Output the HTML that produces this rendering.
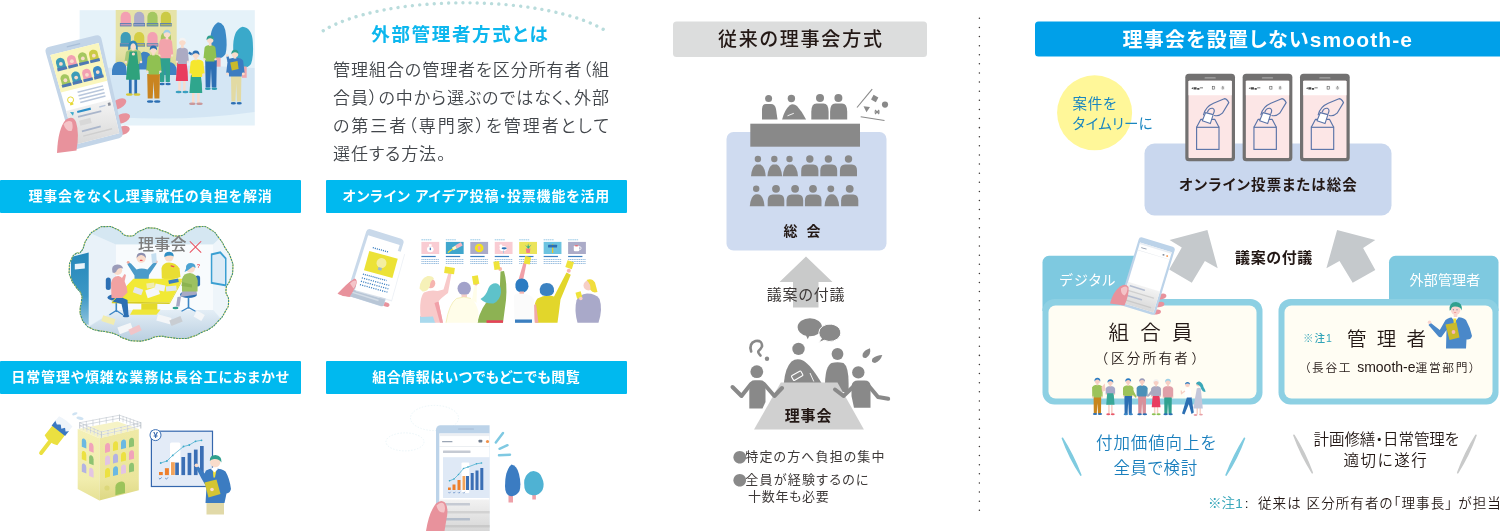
<!DOCTYPE html>
<html lang="ja">
<head>
<meta charset="utf-8">
<title>外部管理者方式とは</title>
<style>
html,body{margin:0;padding:0;background:#fff;}
body{width:1500px;height:531px;overflow:hidden;position:relative;font-family:"Liberation Sans","Noto Sans CJK JP",sans-serif;color:#3e3a39;}
#stage{position:absolute;left:0;top:0;width:1500px;height:531px;overflow:hidden;will-change:transform;-webkit-font-smoothing:antialiased;}
#art{position:absolute;left:0;top:0;width:1500px;height:531px;}
.t{position:absolute;white-space:nowrap;line-height:1;margin:0;font-feature-settings:"palt";}
.j{width:276px;font-size:17px;font-weight:350;color:#42464b;line-height:28px;text-align:justify;text-align-last:justify;text-justify:inter-character;}
.dot{font-family:"Noto Sans CJK JP","Liberation Sans",sans-serif;font-size:14px;color:#898989;letter-spacing:0;font-feature-settings:normal;display:inline-block;width:13.500px;line-height:13px;vertical-align:top;margin-left:-0.300px;margin-right:-0.900px;}
.c{text-align:center;}
.banner{position:absolute;height:33px;border-radius:1px;background:#00b9ef;color:#fff;font-weight:700;font-size:14px;letter-spacing:0.9px;line-height:33px;text-align:center;white-space:nowrap;font-feature-settings:"palt";}
</style>
</head>
<body>
<div id="stage">
<svg id="art" width="1500" height="531" viewBox="0 0 1500 531">
<!--BG-SHAPES-->
<!-- centre: heading box -->
<rect x="673" y="21.5" width="254" height="35.5" rx="3.5" fill="#dcdddd"/>
<!-- centre: general meeting box -->
<rect x="726.5" y="132" width="160" height="118.5" rx="7" fill="#cfdbf0"/>
<!-- centre arrow -->
<polygon points="806,256.5 832.5,282 818.5,282 818.5,307.5 793,307.5 793,282 779.5,282" fill="#c9caca"/>
<!-- right: heading -->
<path d="M1038.500,21.500 H1500 V56.500 H1038.500 a3.500,3.500 0 0 1 -3.500,-3.500 V25 a3.500,3.500 0 0 1 3.500,-3.500 Z" fill="#00a0e9"/>
<!-- right: yellow circle -->
<circle cx="1094.600" cy="112.800" r="37.500" fill="#fff799"/>
<!-- right: online box -->
<rect x="1144.500" y="143.500" width="247" height="72" rx="10" fill="#c9d7ee"/>
<!-- right arrows -->
<polygon points="1207.400,230.100 1217.700,268.300 1204.900,261.100 1191.800,282.800 1169.200,269.600 1181.800,247.400 1169.600,240" fill="#c5c9cc"/>
<polygon points="1337.100,230.100 1326.400,268.300 1339.500,261.100 1352.700,282.800 1375.300,270 1363.100,247.900 1375.300,240" fill="#c5c9cc"/>
<!-- right: frames -->
<path d="M1042.500,311 V262.300 a6.500,6.500 0 0 1 6.500,-6.500 H1150 V311 Z" fill="#7ec9e0"/>
<rect x="1042.500" y="299" width="220" height="105.500" rx="12" fill="#8dd0e3"/>
<rect x="1048.500" y="305.500" width="208" height="93" rx="7" fill="#fffdf3"/>
<path d="M1389,311 V262.300 a6.500,6.500 0 0 1 6.500,-6.500 H1492 a6.500,6.500 0 0 1 6.500,6.500 V311 Z" fill="#7ec9e0"/>
<rect x="1278.500" y="299" width="220" height="105.500" rx="12" fill="#8dd0e3"/>
<rect x="1284.500" y="305.500" width="208" height="93" rx="7" fill="#fffdf3"/>
<!-- slashes -->
<path d="M1062.400,438.300 Q1073,455 1080.800,475.100 Q1069.500,458 1062.400,438.300 Z" fill="#7fcbe0" stroke="#7fcbe0" stroke-width="1.600" stroke-linejoin="round"/>
<path d="M1244.500,438.300 Q1234,455 1226.100,475.100 Q1237.500,458 1244.500,438.300 Z" fill="#7fcbe0" stroke="#7fcbe0" stroke-width="1.600" stroke-linejoin="round"/>
<path d="M1293.900,435.300 Q1304.500,452 1312.300,472.700 Q1301,455 1293.900,435.300 Z" fill="#c9caca" stroke="#c9caca" stroke-width="1.600" stroke-linejoin="round"/>
<path d="M1476,435.300 Q1465.500,452 1457.700,472.700 Q1469,455 1476,435.300 Z" fill="#c9caca" stroke="#c9caca" stroke-width="1.600" stroke-linejoin="round"/>
<!-- vertical dotted divider -->
<line x1="979.400" y1="18.300" x2="979.400" y2="510.500" stroke="#3e3a39" stroke-width="1.500" stroke-dasharray="0.010 9.100" stroke-linecap="round"/>
<!-- dotted arc -->
<path d="M323.250,30.700 A160,52.700 0 0 1 605.550,30.700" fill="none" stroke="#b9dcdc" stroke-width="3.400" stroke-dasharray="0.010 7.180" stroke-linecap="round"/>
<!-- 10_ill1.svg -->
<defs>
<linearGradient id="bldg1" x1="0" y1="0" x2="0" y2="1"><stop offset="0.6" stop-color="#e6e3a8" stop-opacity="0"/><stop offset="1" stop-color="#d8d48a" stop-opacity="0.8"/></linearGradient>
<linearGradient id="phgrad1" x1="0" y1="0" x2="0" y2="1"><stop offset="0" stop-color="#f4f4f4"/><stop offset="1" stop-color="#d9d9d9"/></linearGradient>
</defs>
<g id="ill-residents">
<rect x="79.6" y="10.2" width="175.2" height="115.3" fill="#e5f2f9"/>
<path d="M79.5,70 Q165,62 254.5,68 V112 Q170,124 79.5,114 Z" fill="#d4e6f4"/>
<rect x="115.7" y="10" width="61" height="56" fill="#e6e3a8"/>
<rect x="115.7" y="10" width="61" height="56" fill="url(#bldg1)"/>
<path d="M120.6,23.1 V16.9 A5.1,5.1 0 0 1 130.8,16.9 V23.1 Z" fill="#f3a0b2"/>
<rect x="119.9" y="23" width="11.6" height="3.4" fill="#5a7fb5"/>
<rect x="120.4" y="23.9" width="10.6" height="1.6" fill="#f3a0b2" opacity="0.75"/>
<path d="M134.1,23.1 V16.9 A5.1,5.1 0 0 1 144.3,16.9 V23.1 Z" fill="#adacc9"/>
<rect x="133.4" y="23" width="11.6" height="3.4" fill="#5a7fb5"/>
<rect x="133.9" y="23.9" width="10.6" height="1.6" fill="#adacc9" opacity="0.75"/>
<path d="M147.4,23.1 V16.9 A5.1,5.1 0 0 1 157.6,16.9 V23.1 Z" fill="#a4c760"/>
<rect x="146.7" y="23" width="11.6" height="3.4" fill="#5a7fb5"/>
<rect x="147.2" y="23.9" width="10.6" height="1.6" fill="#a4c760" opacity="0.75"/>
<path d="M160.8,23.1 V16.9 A5.1,5.1 0 0 1 171,16.9 V23.1 Z" fill="#cbca45"/>
<rect x="160.1" y="23" width="11.6" height="3.4" fill="#5a7fb5"/>
<rect x="160.6" y="23.9" width="10.6" height="1.6" fill="#cbca45" opacity="0.75"/>
<path d="M120.6,43.3 V37.1 A5.1,5.1 0 0 1 130.8,37.1 V43.3 Z" fill="#3d9cb8"/>
<rect x="119.9" y="43.2" width="11.6" height="3.4" fill="#5a7fb5"/>
<rect x="120.4" y="44.1" width="10.6" height="1.6" fill="#3d9cb8" opacity="0.75"/>
<path d="M134.1,43.3 V37.1 A5.1,5.1 0 0 1 144.3,37.1 V43.3 Z" fill="#d4ce45"/>
<rect x="133.4" y="43.2" width="11.6" height="3.4" fill="#5a7fb5"/>
<rect x="133.9" y="44.1" width="10.6" height="1.6" fill="#d4ce45" opacity="0.75"/>
<path d="M147.4,43.3 V37.1 A5.1,5.1 0 0 1 157.6,37.1 V43.3 Z" fill="#f3a0b2"/>
<rect x="146.7" y="43.2" width="11.6" height="3.4" fill="#5a7fb5"/>
<rect x="147.2" y="44.1" width="10.6" height="1.6" fill="#f3a0b2" opacity="0.75"/>
<path d="M160.8,43.3 V37.1 A5.1,5.1 0 0 1 171,37.1 V43.3 Z" fill="#a4c760"/>
<rect x="160.1" y="43.2" width="11.6" height="3.4" fill="#5a7fb5"/>
<rect x="160.6" y="44.1" width="10.6" height="1.6" fill="#a4c760" opacity="0.75"/>
<path d="M112,75 Q111,64 117.500,62 Q123.500,60.500 126,66 L127,75 Z" fill="#3f82c3"/>
<path d="M136.500,69.500 Q136,55 143,51.800 Q150.500,51 151.500,59 L152,69.500 Z" fill="#3f82c3"/>
<path d="M161,75 Q161,64 167.500,62 Q175.500,61.500 176.700,70 L176.700,75 Z" fill="#3f82c3"/>
<path d="M218,22.3 Q225,23 226,35 Q227.500,46 225.500,54 Q222,59.5 215.500,58.5 Q210,57 210.200,46 Q209.500,27 218,22.300 Z" fill="#3b8ac6"/>
<rect x="215.8" y="57.5" width="4.8" height="9.2" fill="#eea8ae"/>
<path d="M242.500,26.800 Q252,27.500 252.800,42 Q253.800,56 251,64 Q247,69 240,67.500 Q233,64 233.200,50 Q232.500,30 242.500,26.800 Z" fill="#3aa9ca"/>
<rect x="242" y="66.5" width="4.7" height="11.3" fill="#eea8ae"/>
<path d="M159.6,57.5 H170.3 L169.87,82 H165.7 L164.95,64.85 L164.2,82 H160.03 Z" fill="#2fa18f"/>
<ellipse cx="162.06" cy="84" rx="2.68" ry="1.3" fill="#2c6fb3"/>
<ellipse cx="168.05" cy="84" rx="2.68" ry="1.3" fill="#2c6fb3"/>
<path d="M159.4,41.75 Q160.6,38.6 165.7,38.6 Q170.8,38.6 172,41.75 L173.2,54.36 L171.1,54.75 L170.8,58.3 H160.6 L160.3,54.75 L158.2,54.36 Z" fill="#f2a3ab"/>
<circle cx="159.25" cy="55.54" r="1.12" fill="#f9dccb"/>
<circle cx="172.15" cy="55.54" r="1.12" fill="#f9dccb"/>
<rect x="165.68" y="35.32" width="2.64" height="4.08" fill="#f9dccb"/>
<circle cx="167" cy="34" r="3.3" fill="#f9dccb"/>
<path d="M163.37,34.33 Q163.04,29.88 167,29.71 Q170.96,29.88 170.63,34.33 Q168.98,32.19 167,32.35 Q165.02,32.19 163.37,34.33 Z" fill="#9fd0e6"/>
<path d="M205.2,60.2 H216.8 L216.34,87.5 H211.81 L211,68.39 L210.19,87.5 H205.66 Z" fill="#2c6fb3"/>
<ellipse cx="207.87" cy="88.7" rx="2.9" ry="1.3" fill="#2a9ab0"/>
<ellipse cx="214.36" cy="88.7" rx="2.9" ry="1.3" fill="#2a9ab0"/>
<path d="M204.54,47.64 Q205.58,45 210,45 Q214.42,45 215.46,47.64 L216.5,58.2 L214.68,58.53 L214.42,61.5 H205.58 L205.32,58.53 L203.5,58.2 Z" fill="#90c152"/>
<circle cx="204.41" cy="59.19" r="0.97" fill="#f9dccb"/>
<circle cx="215.59" cy="59.19" r="0.97" fill="#f9dccb"/>
<rect x="208.88" y="41.12" width="2.64" height="4.68" fill="#f9dccb"/>
<circle cx="210.2" cy="39.8" r="3.3" fill="#f9dccb"/>
<path d="M206.57,40.13 Q206.24,35.67 210.2,35.51 Q214.16,35.67 213.83,40.13 Q212.18,37.98 210.2,38.15 Q208.22,37.98 206.57,40.13 Z" fill="#2f9e8e"/>
<rect x="128.92" y="78.5" width="2.72" height="16.3" fill="#2c6fb3"/>
<rect x="134.36" y="78.5" width="2.72" height="16.3" fill="#2c6fb3"/>
<path d="M127.83,58 L138.17,58 Q139.8,68.75 139.8,79.5 L126.2,79.5 Z" fill="#2fa27c"/>
<ellipse cx="129.33" cy="94.5" rx="3.4" ry="1.3" fill="#d7c93a"/>
<ellipse cx="136.94" cy="94.5" rx="3.4" ry="1.3" fill="#d7c93a"/>
<path d="M126.01,52.07 Q127.42,49.8 133.4,49.8 Q139.38,49.8 140.79,52.07 L142.2,61.16 L139.74,61.44 L139.38,64 H127.42 L127.06,61.44 L124.6,61.16 Z" fill="#a8c878"/>
<circle cx="125.83" cy="62.01" r="1.32" fill="#f9dccb"/>
<circle cx="140.97" cy="62.01" r="1.32" fill="#f9dccb"/>
<rect x="131.84" y="46.56" width="2.72" height="4.04" fill="#f9dccb"/>
<circle cx="133.2" cy="45.2" r="3.4" fill="#f9dccb"/>
<path d="M128.1,50.3 Q127.76,40.78 133.2,40.61 Q138.3,40.78 137.79,50.3 L135.92,49.28 Q136.43,43.84 133.2,43.33 Q129.97,43.84 130.48,49.28 Z" fill="#2f86b8"/>
<path d="M129.500,51.500 H137 L139.800,79.500 H126.200 Z" fill="#2fa27c"/>
<circle cx="133.4" cy="54" r="1.6" fill="#f9dccb"/>
<rect x="178.24" y="80" width="2.44" height="12.3" fill="#f9dccb"/>
<rect x="183.12" y="80" width="2.44" height="12.3" fill="#f9dccb"/>
<path d="M177.26,62.6 L186.54,62.6 Q188,71.8 188,81 L175.8,81 Z" fill="#e93c5e"/>
<ellipse cx="178.61" cy="92" rx="3.05" ry="1.3" fill="#3aa0c0"/>
<ellipse cx="185.44" cy="92" rx="3.05" ry="1.3" fill="#3aa0c0"/>
<path d="M176.84,50.06 Q177.88,47.4 182.3,47.4 Q186.72,47.4 187.76,50.06 L188.8,60.68 L186.98,61.01 L186.72,64 H177.88 L177.62,61.01 L175.8,60.68 Z" fill="#acabc3"/>
<circle cx="176.71" cy="61.68" r="0.97" fill="#f9dccb"/>
<circle cx="187.89" cy="61.68" r="0.97" fill="#f9dccb"/>
<rect x="181.08" y="43.32" width="2.64" height="4.88" fill="#f9dccb"/>
<circle cx="182.4" cy="42" r="3.3" fill="#f9dccb"/>
<path d="M178.77,42.33 Q178.44,37.88 182.4,37.71 Q186.36,37.88 186.03,42.33 Q184.38,40.19 182.4,40.35 Q180.42,40.19 178.77,42.33 Z" fill="#f4f4f4"/>
<path d="M147.2,73.9 H159.9 L159.39,98.5 H154.44 L153.55,81.28 L152.66,98.5 H147.71 Z" fill="#c98420"/>
<ellipse cx="150.12" cy="101.5" rx="3.18" ry="1.3" fill="#2c6fb3"/>
<ellipse cx="157.23" cy="101.5" rx="3.18" ry="1.3" fill="#2c6fb3"/>
<path d="M147.42,57.78 Q148.65,54.6 153.85,54.6 Q159.05,54.6 160.28,57.78 L161.5,70.52 L159.36,70.92 L159.05,74.5 H148.65 L148.34,70.92 L146.2,70.52 Z" fill="#90c152"/>
<circle cx="147.27" cy="71.71" r="1.15" fill="#f9dccb"/>
<circle cx="160.43" cy="71.71" r="1.15" fill="#f9dccb"/>
<rect x="152.08" y="51.12" width="2.64" height="4.28" fill="#f9dccb"/>
<circle cx="153.4" cy="49.8" r="3.3" fill="#f9dccb"/>
<path d="M149.77,50.13 Q149.44,45.67 153.4,45.51 Q157.36,45.67 157.03,50.13 Q155.38,47.98 153.4,48.15 Q151.42,47.98 149.77,50.13 Z" fill="#2c6fb3"/>
<rect x="191.96" y="92" width="2.56" height="12.1" fill="#f9dccb"/>
<rect x="197.08" y="92" width="2.56" height="12.1" fill="#f9dccb"/>
<path d="M190.94,74.6 L200.66,74.6 Q202.2,83.8 202.2,93 L189.4,93 Z" fill="#2fa68d"/>
<ellipse cx="192.34" cy="103.8" rx="3.2" ry="1.3" fill="#c9999c"/>
<ellipse cx="199.51" cy="103.8" rx="3.2" ry="1.3" fill="#c9999c"/>
<path d="M190.62,62.22 Q191.83,59.4 197,59.4 Q202.17,59.4 203.38,62.22 L204.6,73.48 L202.47,73.83 L202.17,77 H191.83 L191.53,73.83 L189.4,73.48 Z" fill="#f6e72e"/>
<circle cx="190.46" cy="74.54" r="1.14" fill="#f9dccb"/>
<circle cx="203.54" cy="74.54" r="1.14" fill="#f9dccb"/>
<rect x="194.48" y="56.12" width="2.64" height="4.08" fill="#f9dccb"/>
<circle cx="195.8" cy="54.8" r="3.3" fill="#f9dccb"/>
<path d="M192.17,55.13 Q191.84,50.67 195.8,50.51 Q199.76,50.67 199.43,55.13 Q197.78,52.98 195.8,53.15 Q193.82,52.98 192.17,55.13 Z" fill="#2c6fb3"/>
<path d="M189,51.500 l3,1.500 l-0.500,2.500 l-3.200,-1.800 Z" fill="#2c6fb3"/>
<path d="M231,75.4 H241.4 L240.98,101.5 H236.93 L236.2,83.23 L235.47,101.5 H231.42 Z" fill="#e2daa3"/>
<ellipse cx="233.39" cy="103.2" rx="2.6" ry="1.3" fill="#2c6fb3"/>
<ellipse cx="239.22" cy="103.2" rx="2.6" ry="1.3" fill="#2c6fb3"/>
<path d="M227.67,60.79 Q229.14,57.8 235.4,57.8 Q241.66,57.8 243.13,60.79 L244.6,72.76 L242.02,73.13 L241.66,76.5 H229.14 L228.78,73.13 L226.2,72.76 Z" fill="#3c7cc0"/>
<circle cx="227.49" cy="73.88" r="1.38" fill="#f9dccb"/>
<circle cx="243.31" cy="73.88" r="1.38" fill="#f9dccb"/>
<rect x="233.68" y="55.32" width="2.64" height="3.28" fill="#f9dccb"/>
<circle cx="235" cy="54" r="3.3" fill="#f9dccb"/>
<path d="M231.37,54.33 Q231.04,49.88 235,49.71 Q238.96,49.88 238.63,54.33 Q236.98,52.19 235,52.35 Q233.02,52.19 231.37,54.33 Z" fill="#2f9e8e"/>
<path d="M227.500,62 L226.300,56.500 L228.300,56 L230.500,61 Z" fill="#3c7cc0"/>
<circle cx="227.2" cy="55.5" r="1.3" fill="#f9dccb"/>
<path d="M230.200,62.500 L237.500,61 L238.600,69 L231.800,70.500 Z" fill="#c9ba2b"/>
<ellipse cx="118.5" cy="104" rx="8.5" ry="4.6" fill="#e8929c" transform="rotate(-28 118.5 104)"/>
<ellipse cx="122" cy="118.5" rx="8.5" ry="4.6" fill="#e8929c" transform="rotate(-22 122 118.5)"/>
<ellipse cx="122.5" cy="130.5" rx="7.5" ry="4.2" fill="#e8929c" transform="rotate(-18 122.5 130.5)"/>
<g>
<path d="M49.44,46.76 L95.36,35.44 Q100.4,34.2 101.44,38.83 L122.56,132.37 Q123.6,137 119.1,138.17 L78.1,148.83 Q73.6,150 72.29,145.41 L45.71,52.59 Q44.4,48 49.44,46.76 Z" fill="#c3d5e8"/>
<polygon points="50.29,55.06 98.6,43.11 119.29,133.22 75.55,144.56" fill="#ffffff"/>
<polygon points="50.29,55.06 98.6,43.11 107.26,80.82 60.86,92.52" fill="#faf6bd"/>
<polygon points="66.62,46.34 80.01,43.03 80.32,44.26 66.95,47.56" fill="#a9bfd8"/>
<polygon points="57.8,69.25 56.1,63.15 55.96,61.83 56.25,60.53 56.94,59.39 57.97,58.51 59.24,57.98 60.62,57.85 61.97,58.14 63.16,58.81 64.08,59.81 64.63,61.03 66.27,67.14" fill="#3d9cb8"/>
<polygon points="57.03,68.57 66.6,66.18 67.37,69.04 57.82,71.43" fill="#4f78b3"/>
<circle cx="60.89" cy="63.89" r="1.9" fill="#f9dccb"/>
<polygon points="68.73,66.52 67.1,60.42 66.97,59.09 67.28,57.79 67.98,56.65 69.02,55.77 70.29,55.24 71.66,55.11 73.01,55.4 74.19,56.08 75.09,57.08 75.63,58.3 77.2,64.41" fill="#f3a0b2"/>
<polygon points="67.97,65.84 77.54,63.46 78.27,66.32 68.73,68.7" fill="#4f78b3"/>
<circle cx="71.87" cy="61.16" r="1.9" fill="#f9dccb"/>
<polygon points="79.66,63.8 78.11,57.69 77.99,56.36 78.31,55.06 79.02,53.91 80.07,53.03 81.34,52.5 82.71,52.37 84.05,52.66 85.22,53.34 86.11,54.34 86.63,55.57 88.13,61.69" fill="#a4c760"/>
<polygon points="78.91,63.12 88.48,60.73 89.18,63.6 79.64,65.98" fill="#4f78b3"/>
<circle cx="82.85" cy="58.43" r="1.9" fill="#f9dccb"/>
<polygon points="90.59,61.08 89.11,54.95 89.01,53.62 89.34,52.32 90.06,51.17 91.11,50.29 92.39,49.76 93.76,49.63 95.09,49.92 96.25,50.6 97.13,51.61 97.63,52.83 99.06,58.96" fill="#cbca45"/>
<polygon points="89.85,60.39 99.42,58.01 100.09,60.88 90.54,63.26" fill="#4f78b3"/>
<circle cx="93.83" cy="55.7" r="1.9" fill="#f9dccb"/>
<polygon points="62.35,85.58 60.65,79.49 60.51,78.17 60.78,76.87 61.46,75.73 62.47,74.85 63.72,74.32 65.07,74.2 66.4,74.49 67.58,75.17 68.48,76.17 69.03,77.39 70.68,83.49" fill="#a4c760"/>
<polygon points="61.59,84.9 70.99,82.54 71.76,85.4 62.39,87.76" fill="#4f78b3"/>
<circle cx="65.37" cy="80.24" r="1.9" fill="#f9dccb"/>
<polygon points="73.09,82.89 71.46,76.78 71.33,75.46 71.62,74.16 72.31,73.01 73.33,72.13 74.57,71.61 75.93,71.48 77.25,71.78 78.42,72.46 79.31,73.46 79.84,74.68 81.41,80.79" fill="#3d9cb8"/>
<polygon points="72.34,82.2 81.74,79.84 82.48,82.71 73.1,85.07" fill="#4f78b3"/>
<circle cx="76.15" cy="77.54" r="1.9" fill="#f9dccb"/>
<polygon points="83.83,80.19 82.27,74.07 82.15,72.75 82.46,71.45 83.16,70.3 84.18,69.42 85.43,68.89 86.78,68.77 88.1,69.06 89.25,69.75 90.13,70.75 90.65,71.97 92.15,78.1" fill="#f3a0b2"/>
<polygon points="83.08,79.5 92.49,77.14 93.19,80.01 83.81,82.37" fill="#4f78b3"/>
<circle cx="86.94" cy="74.83" r="1.9" fill="#f9dccb"/>
<polygon points="94.57,77.49 93.08,71.36 92.98,70.04 93.3,68.73 94.01,67.59 95.04,66.71 96.29,66.18 97.64,66.06 98.95,66.35 100.09,67.03 100.96,68.04 101.46,69.27 102.89,75.4" fill="#3b8ac6"/>
<polygon points="93.83,76.8 103.24,74.44 103.9,77.32 94.53,79.67" fill="#4f78b3"/>
<circle cx="97.73" cy="72.12" r="1.9" fill="#f9dccb"/>
<circle cx="70.58" cy="99.9" r="3" fill="none" stroke="#e6d936" stroke-width="1"/>
<polygon points="69.84,103.36 73,102.56 73.55,104.6 70.41,105.4" fill="#e6d936"/>
<polygon points="77.4,91.62 102.92,85.18 103.25,86.61 77.78,93.05" fill="#b9c7dc"/>
<polygon points="78.3,94.99 103.71,88.57 104.05,90 78.67,96.43" fill="#b9c7dc"/>
<polygon points="79.19,98.37 104.51,91.95 104.85,93.39 79.57,99.8" fill="#b9c7dc"/>
<polygon points="80.08,101.75 105.31,95.34 105.65,96.78 80.46,103.18" fill="#b9c7dc"/>
<path d="M66.05,110.89 L111.5,99.31 L119.29,133.22 L75.55,144.56 Z" fill="url(#phgrad1)"/>
<polygon points="70.01,112.06 73.94,112.15 72.96,115.68" fill="#3aa9ca"/>
<polygon points="76.98,111.05 90.52,107.6 91.05,109.65 77.53,113.1" fill="#2c8fc8"/>
<polygon points="99.06,106.3 105.3,104.7 105.62,106.04 99.39,107.63" fill="#b9c7dc"/>
<polygon points="107.67,103.01 110.27,102.35 110.94,105.22 108.34,105.89" fill="#8a8f99"/>
<polygon points="77.79,116.09 101.1,110.13 101.52,111.88 78.26,117.83" fill="#aab6cb"/>
<polygon points="79.04,120.69 90.37,117.78 91.69,122.9 80.42,125.8" fill="#d8d8d8"/>
<polygon points="81.67,130.4 100.52,125.54 100.96,127.28 82.14,132.14" fill="#aab6cb"/>
<polygon points="83.05,135.51 111.93,128.05 112.24,129.38 83.41,136.84" fill="#cfcfcf"/>
</g>
<path d="M57,153 Q58,128 66,119.5 Q73,115 76,122 Q79.5,133 76.500,150.500 Z" fill="#e8929c"/>
<path d="M63.500,124 Q68,119 72,122 Q73.500,128 71.500,131 Q66,132 63.500,124 Z" fill="#f4c4c8"/>
</g>
<!-- 20_ill2.svg -->
<defs>
<linearGradient id="floor2" x1="0" y1="0" x2="0" y2="1"><stop offset="0" stop-color="#e4eef6"/><stop offset="1" stop-color="#b4cbde"/></linearGradient>
<linearGradient id="door2" x1="0" y1="0" x2="0" y2="1"><stop offset="0" stop-color="#2587b9"/><stop offset="0.6" stop-color="#3c98c6"/><stop offset="1" stop-color="#8fc3dd"/></linearGradient>
</defs>
<g id="ill-boardroom">
<clipPath id="cloudclip"><path d="M81.5,251 C85.33,245.83 82.5,245.17 87.5,238 C92.5,230.83 90.33,233.3 96.5,229.5 C102.67,225.7 99.33,226.77 106,226.6 C112.67,226.43 108.9,225.87 116.5,229 C124.1,232.13 120.63,235.5 128.8,236 C136.97,236.5 133.37,233.17 141,230.5 C148.63,227.83 143.87,227.67 151.7,228 C159.53,228.33 155.63,228.83 164.5,231.5 C173.37,234.17 169.8,236.5 178.3,236 C186.8,235.5 182.77,233.13 190,230 C197.23,226.87 193.17,226.77 200,226.6 C206.83,226.43 204.17,225.7 210.5,229.5 C216.83,233.3 214.07,231.83 219,238 C223.93,244.17 221.37,241.33 225.3,248 C229.23,254.67 228.3,250.8 230.8,258 C233.3,265.2 233.07,262.27 232.8,269.6 C232.53,276.93 232.27,273.2 230,280 C227.73,286.8 226.47,282.87 226,290 C225.53,297.13 228.93,294.07 228.6,301.4 C228.27,308.73 228.63,305.23 225,312 C221.37,318.77 222.7,316.2 217.7,321.7 C212.7,327.2 215.07,325.07 210,328.5 C204.93,331.93 208.5,329.23 202.5,332 C196.5,334.77 198.83,334.63 192,336.8 C185.17,338.97 189.33,338.27 182,338.5 C174.67,338.73 178,338.17 170,337.5 C162,336.83 165.67,335.73 158,336.5 C150.33,337.27 154.2,338.3 147,339.8 C139.8,341.3 143.73,341.33 136.4,341 C129.07,340.67 131.8,341 125,338.8 C118.2,336.6 122,336.67 116,334.4 C110,332.13 112.9,333.27 107,332 C101.1,330.73 103.63,331.83 98.3,330.6 C92.97,329.37 95.23,330.4 91,328.3 C86.77,326.2 88.83,328.07 85.6,324.3 C82.37,320.53 83.1,322.1 81.3,317 C79.5,311.9 80.13,314.33 80.2,309 C80.27,303.67 81.23,306.07 81.5,301 C81.77,295.93 82.83,298.47 81,293.8 C79.17,289.13 79.4,292.27 76,287 C72.6,281.73 73.03,284.2 70.8,278 C68.57,271.8 69.07,274.73 69.3,268.4 C69.53,262.07 69.27,263.97 71.5,259 C73.73,254.03 72.67,256.17 76,253.5 C79.33,250.83 77.67,256.17 81.5,251 Z"/></clipPath>
<g clip-path="url(#cloudclip)">
<rect x="65" y="222" width="172" height="122" fill="#dfecf5"/>
<polygon points="65,222 237,222 213,244.5 115.8,244.5" fill="#d5e7f2"/>
<polygon points="65,222 115.8,244.5 115.8,310 65,340" fill="#e9f2f9"/>
<polygon points="237,222 213,244.5 213,310 237,335" fill="#eef5fa"/>
<rect x="115.8" y="244.5" width="97.2" height="66" fill="#f8fbfd"/>
<polygon points="115.8,310 213,310 240,345 60,345" fill="url(#floor2)"/>
<polygon points="71,257 88.7,252.5 88.7,325 71,318" fill="url(#door2)"/>
<rect x="74.8" y="263.5" width="10" height="5.5" fill="#e9f4fa" transform="skewY(-6)" transform-origin="80 266"/>
<polygon points="210.8,253.5 220.5,251.3 226.5,258 226.5,286.5 210.8,283.8" fill="#3a9fd2"/>
<polygon points="212.3,255.3 220,253.5 225,259 225,284.3 212.3,282" fill="#dcebf6"/>
<rect x="102" y="317" width="13" height="6" fill="#f1ecb0" transform="rotate(18 108 320)"/>
<rect x="118" y="325" width="14" height="7" fill="#f4f6f8" transform="rotate(-20 125 328)"/>
<rect x="129" y="327" width="12" height="6" fill="#f1c4c8" transform="rotate(-25 135 330)"/>
<rect x="157" y="316" width="14" height="6.5" fill="#f4f6f8" transform="rotate(15 164 319)"/>
<rect x="170" y="318" width="12" height="6" fill="#c9cdd2" transform="rotate(-22 176 321)"/>
<rect x="195" y="312" width="9" height="7" fill="#f4f6f8" transform="rotate(30 199 315)"/>
</g>
<path d="M81.5,251 C85.33,245.83 82.5,245.17 87.5,238 C92.5,230.83 90.33,233.3 96.5,229.5 C102.67,225.7 99.33,226.77 106,226.6 C112.67,226.43 108.9,225.87 116.5,229 C124.1,232.13 120.63,235.5 128.8,236 C136.97,236.5 133.37,233.17 141,230.5 C148.63,227.83 143.87,227.67 151.7,228 C159.53,228.33 155.63,228.83 164.5,231.5 C173.37,234.17 169.8,236.5 178.3,236 C186.8,235.5 182.77,233.13 190,230 C197.23,226.87 193.17,226.77 200,226.6 C206.83,226.43 204.17,225.7 210.5,229.5 C216.83,233.3 214.07,231.83 219,238 C223.93,244.17 221.37,241.33 225.3,248 C229.23,254.67 228.3,250.8 230.8,258 C233.3,265.2 233.07,262.27 232.8,269.6 C232.53,276.93 232.27,273.2 230,280 C227.73,286.8 226.47,282.87 226,290 C225.53,297.13 228.93,294.07 228.6,301.4 C228.27,308.73 228.63,305.23 225,312 C221.37,318.77 222.7,316.2 217.7,321.7 C212.7,327.2 215.07,325.07 210,328.5 C204.93,331.93 208.5,329.23 202.5,332 C196.5,334.77 198.83,334.63 192,336.8 C185.17,338.97 189.33,338.27 182,338.5 C174.67,338.73 178,338.17 170,337.5 C162,336.83 165.67,335.73 158,336.5 C150.33,337.27 154.2,338.3 147,339.8 C139.8,341.3 143.73,341.33 136.4,341 C129.07,340.67 131.8,341 125,338.8 C118.2,336.6 122,336.67 116,334.4 C110,332.13 112.9,333.27 107,332 C101.1,330.73 103.63,331.83 98.3,330.6 C92.97,329.37 95.23,330.4 91,328.3 C86.77,326.2 88.83,328.07 85.6,324.3 C82.37,320.53 83.1,322.1 81.3,317 C79.5,311.9 80.13,314.33 80.2,309 C80.27,303.67 81.23,306.07 81.5,301 C81.77,295.93 82.83,298.47 81,293.8 C79.17,289.13 79.4,292.27 76,287 C72.6,281.73 73.03,284.2 70.8,278 C68.57,271.8 69.07,274.73 69.3,268.4 C69.53,262.07 69.27,263.97 71.5,259 C73.73,254.03 72.67,256.17 76,253.5 C79.33,250.83 77.67,256.17 81.5,251 Z" fill="none" stroke="#e4d94e" stroke-width="1"/>
<path d="M81.5,251 C85.33,245.83 82.5,245.17 87.5,238 C92.5,230.83 90.33,233.3 96.5,229.5 C102.67,225.7 99.33,226.77 106,226.6 C112.67,226.43 108.9,225.87 116.5,229 C124.1,232.13 120.63,235.5 128.8,236 C136.97,236.5 133.37,233.17 141,230.5 C148.63,227.83 143.87,227.67 151.7,228 C159.53,228.33 155.63,228.83 164.5,231.5 C173.37,234.17 169.8,236.5 178.3,236 C186.8,235.5 182.77,233.13 190,230 C197.23,226.87 193.17,226.77 200,226.6 C206.83,226.43 204.17,225.7 210.5,229.5 C216.83,233.3 214.07,231.83 219,238 C223.93,244.17 221.37,241.33 225.3,248 C229.23,254.67 228.3,250.8 230.8,258 C233.3,265.2 233.07,262.27 232.8,269.6 C232.53,276.93 232.27,273.2 230,280 C227.73,286.8 226.47,282.87 226,290 C225.53,297.13 228.93,294.07 228.6,301.4 C228.27,308.73 228.63,305.23 225,312 C221.37,318.77 222.7,316.2 217.7,321.7 C212.7,327.2 215.07,325.07 210,328.5 C204.93,331.93 208.5,329.23 202.5,332 C196.5,334.77 198.83,334.63 192,336.8 C185.17,338.97 189.33,338.27 182,338.5 C174.67,338.73 178,338.17 170,337.5 C162,336.83 165.67,335.73 158,336.5 C150.33,337.27 154.2,338.3 147,339.8 C139.8,341.3 143.73,341.33 136.4,341 C129.07,340.67 131.8,341 125,338.8 C118.2,336.6 122,336.67 116,334.4 C110,332.13 112.9,333.27 107,332 C101.1,330.73 103.63,331.83 98.3,330.6 C92.97,329.37 95.23,330.4 91,328.3 C86.77,326.2 88.83,328.07 85.6,324.3 C82.37,320.53 83.1,322.1 81.3,317 C79.5,311.9 80.13,314.33 80.2,309 C80.27,303.67 81.23,306.07 81.5,301 C81.77,295.93 82.83,298.47 81,293.8 C79.17,289.13 79.4,292.27 76,287 C72.6,281.73 73.03,284.2 70.8,278 C68.57,271.8 69.07,274.73 69.3,268.4 C69.53,262.07 69.27,263.97 71.5,259 C73.73,254.03 72.67,256.17 76,253.5 C79.33,250.83 77.67,256.17 81.5,251 Z" fill="none" stroke="#3a8d8a" stroke-width="1.100" stroke-dasharray="1.900 1"/>
<rect x="105.8" y="277.5" width="5" height="12.5" rx="2.5" fill="#2c6fb3"/>
<ellipse cx="113.5" cy="297.5" rx="6" ry="3" fill="#2c6fb3"/>
<rect x="115.5" y="299" width="1.6" height="13" fill="#3b86c5"/>
<path d="M110,314.500 L116.3,310.500 L122.500,314.500" fill="none" stroke="#3b86c5" stroke-width="1.4" stroke-linecap="round"/>
<rect x="195.5" y="275.5" width="4.6" height="11" rx="2.3" fill="#2c6fb3"/>
<ellipse cx="188.5" cy="294.5" rx="8.5" ry="3.6" fill="#2c6fb3"/>
<rect x="187.7" y="297" width="1.6" height="11.5" fill="#3b86c5"/>
<path d="M182,311 L188.5,307.500 L195,311" fill="none" stroke="#3b86c5" stroke-width="1.4" stroke-linecap="round"/>
<path d="M131,263.5 L128,262 L127.5,264.500 L134.5,275.5 L134.5,280 L148.5,280 L149,275 L156.8,263.5 L156,261.5 L153.500,262.500 L147.5,269.5 Q141.5,267.5 136.5,269.5 Z" fill="#4a9bc9"/>
<circle cx="128.2" cy="262.3" r="1.4" fill="#f3a99b"/>
<circle cx="156.2" cy="261.8" r="1.4" fill="#f3a99b"/>
<circle cx="141.2" cy="258.2" r="4.6" fill="#f9dccb"/>
<path d="M136.500,258 Q136.500,252.800 141.200,252.800 Q146,252.800 146,258 Q143.500,254.800 141.200,255 Q139,254.800 136.500,258 Z" fill="#8d8fae"/>
<rect x="139.8" y="259.8" width="2.8" height="1.3" rx="0.6" fill="#e9505a"/>
<polygon points="151.2,254 156.2,253 156.8,262.5 152,263.5" fill="#c6dff0"/>
<path d="M161.500,268 Q163,262.500 169,262.500 Q176,262.500 179.500,268.500 L180.500,277 Q172,281 161.800,278.500 Z" fill="#e9dd33"/>
<circle cx="169" cy="257.2" r="4.4" fill="#f9dccb"/>
<path d="M164.300,257 Q164,251.800 169.500,251.800 Q174,252.300 173.600,256.500 Q170.500,254.500 164.300,257 Z" fill="#2f8fc5"/>
<rect x="170.5" y="265.5" width="4" height="1.2" rx="0.6" fill="#e9505a" transform="rotate(15 172 266)"/>
<polygon points="133.3,278.8 182.6,278.8 169.7,302.4 111.8,301.6" fill="#f1e935"/>
<polygon points="111.8,301.6 169.7,302.4 169.7,304 111.8,303.3" fill="#d6cc24"/>
<polygon points="169.7,302.4 182.6,278.8 182.6,280.5 169.7,304" fill="#e2d92b"/>
<rect x="141.3" y="303.5" width="16" height="6.5" fill="#e4da2a"/>
<polygon points="133,309.5 160.5,309.5 156.5,314.8 130,314.8" fill="#efe63a"/>
<rect x="146.5" y="283" width="8" height="5" fill="#f1ecb0" transform="rotate(-8 150 285)"/>
<rect x="133.5" y="288" width="9" height="6" fill="#e4e6ea" transform="rotate(20 138 291)"/>
<rect x="146" y="288.5" width="13" height="8" fill="#f5f7f9" transform="rotate(-18 152 292)"/>
<rect x="155" y="284.5" width="10" height="6" fill="#eef1f4" transform="rotate(12 160 287)"/>
<rect x="166" y="286" width="10.5" height="5" fill="#dfe6ee" transform="rotate(-5 171 288)"/>
<rect x="168.5" y="279.5" width="10" height="3.6" fill="#3b7fc0" transform="rotate(-12 173 281)"/>
<path d="M118.5,296 L127.500,300 L128.500,315 L124,315.500 L121.5,304 L112.500,301.500 Z" fill="#2c6fb3"/>
<ellipse cx="126" cy="316" rx="3.2" ry="1.3" fill="#2c6fb3"/>
<path d="M111,283 Q112.500,275.800 118.500,276 Q123.500,276.500 126.800,287.500 L127.500,292.500 L122,298 L111.500,298 Z" fill="#f1a2a2"/>
<path d="M120,281 L124.500,274 L126,275 L124,284 Z" fill="#f1a2a2"/>
<circle cx="117.6" cy="270.3" r="4.6" fill="#f9dccb"/>
<path d="M112.500,272.500 Q110.500,265 117,264.500 Q122,264.300 123.200,268.500 Q119,267 117,270 Q116,274 112.500,272.500 Z" fill="#9b9cb9"/>
<path d="M182.500,290.500 L196.500,290.500 L197,294.500 L180.500,297 Z" fill="#a7a9c5"/>
<path d="M177.500,297 L181,296.500 L179.500,306.500 L176,306.500 Z" fill="#a7a9c5"/>
<ellipse cx="175.5" cy="308" rx="3" ry="1.3" fill="#2fa18f"/>
<path d="M182,279 Q183.500,273 190,273 Q196.500,273.500 197.800,281 L197.500,291.500 L182,291.500 Z" fill="#9dc160"/>
<path d="M182,282 L192,284.500 L192,287.500 L181.500,286 Z" fill="#8bb350"/>
<circle cx="190.6" cy="268.3" r="4.4" fill="#f9dccb"/>
<path d="M186,268.500 Q185.500,263 191,263 Q196,263.500 195.500,268 L193,266.500 L187.500,270.500 L184.500,272 Z" fill="#4ba3d3"/>
<text x="196.800" y="267.500" font-size="5.500" font-weight="700" fill="#e9505a" font-family="Liberation Sans, sans-serif">?</text>
</g>
<!-- 30_ill3.svg -->
<g id="ill-ideas">
<path d="M337.5,293.5 Q345,286 352,280 Q357.500,277 358.500,282 L355,297.500 L349,296.500 Q343,297 337.500,293.500 Z" fill="#e8929c"/>
<ellipse cx="386" cy="304.5" rx="3.6" ry="2.2" fill="#e8929c" transform="rotate(17 386 304.5)"/>
<g transform="translate(375.200 267.800) rotate(17.500)">
<rect x="-19.5" y="-35.5" width="39" height="70.5" rx="3.5" fill="#c9d9ea"/>
<rect x="-16.5" y="-29" width="33" height="52" fill="#ffffff"/>
<rect x="-19" y="23" width="38" height="11.6" rx="1" fill="#b8c6d6"/>
<rect x="-15" y="26" width="28" height="1.5" fill="#d4dde7"/>
<rect x="-15" y="29.5" width="28" height="1.5" fill="#d4dde7"/>
</g>
<g transform="translate(379.700 271.400) rotate(15.5)">
<rect x="-18.5" y="-24" width="37.5" height="49" fill="#dfe6ee" opacity="0.6" transform="translate(0.800 0.800)"/>
<rect x="-19" y="-24.5" width="38" height="49" fill="#ffffff"/>
<rect x="-15.5" y="-17" width="29.5" height="20" fill="#ece236"/>
<circle cx="-0.5" cy="-8.5" r="5" fill="#f4eea0"/>
<rect x="-2.3" y="-4" width="3.6" height="3" fill="#9fb8d0"/>
<line x1="-13" y1="-21" x2="3" y2="-21" stroke="#3b7fc0" stroke-width="1.3" stroke-dasharray="1.100 1"/>
<line x1="-15.5" y1="7" x2="9" y2="7" stroke="#3b7fc0" stroke-width="1.3" stroke-dasharray="1.100 0.900"/>
<line x1="-15.5" y1="11" x2="13" y2="11" stroke="#3b7fc0" stroke-width="1.3" stroke-dasharray="1.100 1.200"/>
<line x1="-15.5" y1="14.5" x2="13" y2="14.5" stroke="#3b7fc0" stroke-width="1.3" stroke-dasharray="1.100 1.200"/>
<line x1="-15.5" y1="18" x2="13" y2="18" stroke="#3b7fc0" stroke-width="1.3" stroke-dasharray="1.100 1.200"/>
</g>
<path d="M338,294 Q346,284 354.500,278.500 Q358,279.500 356,285.500 Q353,292 349.500,297 Z" fill="#e8929c"/>
<path d="M350,283.500 Q354,279.500 356,281 Q356.500,285 353.500,288.500 Z" fill="#f4c4c8"/>
<rect x="420.8" y="238.6" width="19.2" height="26.2" fill="#ffffff"/>
<line x1="421.4" y1="239.8" x2="431.9" y2="239.8" stroke="#8cc4e4" stroke-width="0.9" stroke-dasharray="1.600 0.500"/>
<rect x="421.4" y="241.9" width="17.8" height="12.1" fill="#f9ccd3"/>
<ellipse cx="430.3" cy="249.2" rx="3.3" ry="3" fill="#ffffff"/>
<rect x="429" y="244.2" width="2.6" height="1.8" fill="#ffffff"/>
<rect x="429.7" y="247.7" width="1.2" height="2.4" fill="#3b6fb5"/>
<rect x="421.4" y="255.9" width="14.3" height="1.2" fill="#3b7fc0"/>
<line x1="421.4" y1="259.5" x2="439.2" y2="259.5" stroke="#8fb8dc" stroke-width="0.9" stroke-dasharray="1.300 0.500"/>
<line x1="421.4" y1="261.5" x2="439.2" y2="261.5" stroke="#8fb8dc" stroke-width="0.9" stroke-dasharray="1.300 0.500"/>
<line x1="421.4" y1="263.5" x2="439.2" y2="263.5" stroke="#8fb8dc" stroke-width="0.9" stroke-dasharray="1.300 0.500"/>
<rect x="445.25" y="238.6" width="19.2" height="26.2" fill="#ffffff"/>
<line x1="445.85" y1="239.8" x2="456.35" y2="239.8" stroke="#8cc4e4" stroke-width="0.9" stroke-dasharray="1.600 0.500"/>
<rect x="445.85" y="241.9" width="17.8" height="12.1" fill="#3fa6cd"/>
<line x1="448.25" y1="252.2" x2="452.75" y2="249" stroke="#f1dd31" stroke-width="1.3" stroke-linecap="round"/>
<line x1="452.75" y1="249" x2="456.25" y2="246.8" stroke="#fdf6c8" stroke-width="3.2"/>
<line x1="456.25" y1="246.8" x2="461.75" y2="243.8" stroke="#f6b5c0" stroke-width="3.6"/>
<rect x="445.85" y="255.9" width="14.3" height="1.2" fill="#3b7fc0"/>
<line x1="445.85" y1="259.5" x2="463.65" y2="259.5" stroke="#8fb8dc" stroke-width="0.9" stroke-dasharray="1.300 0.500"/>
<line x1="445.85" y1="261.5" x2="463.65" y2="261.5" stroke="#8fb8dc" stroke-width="0.9" stroke-dasharray="1.300 0.500"/>
<line x1="445.85" y1="263.5" x2="463.65" y2="263.5" stroke="#8fb8dc" stroke-width="0.9" stroke-dasharray="1.300 0.500"/>
<rect x="469.7" y="238.6" width="19.2" height="26.2" fill="#ffffff"/>
<line x1="470.3" y1="239.8" x2="480.8" y2="239.8" stroke="#8cc4e4" stroke-width="0.9" stroke-dasharray="1.600 0.500"/>
<rect x="470.3" y="241.9" width="17.8" height="12.1" fill="#ababc8"/>
<circle cx="479.2" cy="248" r="4.3" fill="#f3e21f"/>
<ellipse cx="479.2" cy="248" rx="1.5" ry="2" fill="#f3a0b2"/>
<rect x="470.3" y="255.9" width="14.3" height="1.2" fill="#3b7fc0"/>
<line x1="470.3" y1="259.5" x2="488.1" y2="259.5" stroke="#8fb8dc" stroke-width="0.9" stroke-dasharray="1.300 0.500"/>
<line x1="470.3" y1="261.5" x2="488.1" y2="261.5" stroke="#8fb8dc" stroke-width="0.9" stroke-dasharray="1.300 0.500"/>
<line x1="470.3" y1="263.5" x2="488.1" y2="263.5" stroke="#8fb8dc" stroke-width="0.9" stroke-dasharray="1.300 0.500"/>
<rect x="494.15" y="238.6" width="19.2" height="26.2" fill="#ffffff"/>
<line x1="494.75" y1="239.8" x2="505.25" y2="239.8" stroke="#8cc4e4" stroke-width="0.9" stroke-dasharray="1.600 0.500"/>
<rect x="494.75" y="241.9" width="17.8" height="12.1" fill="#f9ccd3"/>
<ellipse cx="503.15" cy="248.5" rx="3.6" ry="2.6" fill="#ffffff"/>
<circle cx="500.85" cy="245.7" r="1.5" fill="#ffffff"/>
<ellipse cx="504.15" cy="248.3" rx="2.6" ry="1.1" fill="#2c6fb3"/>
<rect x="503.25" y="250.5" width="0.7" height="2.8" fill="#8cc4e4"/>
<rect x="494.75" y="255.9" width="14.3" height="1.2" fill="#3b7fc0"/>
<line x1="494.75" y1="259.5" x2="512.55" y2="259.5" stroke="#8fb8dc" stroke-width="0.9" stroke-dasharray="1.300 0.500"/>
<line x1="494.75" y1="261.5" x2="512.55" y2="261.5" stroke="#8fb8dc" stroke-width="0.9" stroke-dasharray="1.300 0.500"/>
<line x1="494.75" y1="263.5" x2="512.55" y2="263.5" stroke="#8fb8dc" stroke-width="0.9" stroke-dasharray="1.300 0.500"/>
<rect x="518.6" y="238.6" width="19.2" height="26.2" fill="#ffffff"/>
<line x1="519.2" y1="239.8" x2="529.7" y2="239.8" stroke="#8cc4e4" stroke-width="0.9" stroke-dasharray="1.600 0.500"/>
<rect x="519.2" y="241.9" width="17.8" height="12.1" fill="#ebe45a"/>
<polygon points="525.8,248.5 530.4,248.5 529.8,253 526.4,253" fill="#f0808a"/>
<path d="M528.1,248.5 l-3.200,-3.800 l2.600,2 l0.600,-3.400 l0.800,3.400 l2.600,-2.200 l-2.800,4 Z" fill="#2fa68d"/>
<rect x="519.2" y="255.9" width="14.3" height="1.2" fill="#3b7fc0"/>
<line x1="519.2" y1="259.5" x2="537" y2="259.5" stroke="#8fb8dc" stroke-width="0.9" stroke-dasharray="1.300 0.500"/>
<line x1="519.2" y1="261.5" x2="537" y2="261.5" stroke="#8fb8dc" stroke-width="0.9" stroke-dasharray="1.300 0.500"/>
<line x1="519.2" y1="263.5" x2="537" y2="263.5" stroke="#8fb8dc" stroke-width="0.9" stroke-dasharray="1.300 0.500"/>
<rect x="543.05" y="238.6" width="19.2" height="26.2" fill="#ffffff"/>
<line x1="543.65" y1="239.8" x2="554.15" y2="239.8" stroke="#8cc4e4" stroke-width="0.9" stroke-dasharray="1.600 0.500"/>
<rect x="543.65" y="241.9" width="17.8" height="12.1" fill="#6cc3e0"/>
<rect x="551.95" y="244.2" width="1.3" height="8.8" fill="#e9c62b"/>
<rect x="548.05" y="244.8" width="9" height="2.8" rx="0.5" fill="#2c6fb3"/>
<rect x="543.65" y="255.9" width="14.3" height="1.2" fill="#3b7fc0"/>
<line x1="543.65" y1="259.5" x2="561.45" y2="259.5" stroke="#8fb8dc" stroke-width="0.9" stroke-dasharray="1.300 0.500"/>
<line x1="543.65" y1="261.5" x2="561.45" y2="261.5" stroke="#8fb8dc" stroke-width="0.9" stroke-dasharray="1.300 0.500"/>
<line x1="543.65" y1="263.5" x2="561.45" y2="263.5" stroke="#8fb8dc" stroke-width="0.9" stroke-dasharray="1.300 0.500"/>
<rect x="567.5" y="238.6" width="19.2" height="26.2" fill="#ffffff"/>
<line x1="568.1" y1="239.8" x2="578.6" y2="239.8" stroke="#8cc4e4" stroke-width="0.9" stroke-dasharray="1.600 0.500"/>
<rect x="568.1" y="241.9" width="17.8" height="12.1" fill="#ababc8"/>
<rect x="573.8" y="245.4" width="5.4" height="5.8" rx="1" fill="#ffffff"/>
<circle cx="579.6" cy="248.2" r="1.5" fill="none" stroke="#ffffff" stroke-width="0.8"/>
<ellipse cx="576.5" cy="245.8" rx="2.2" ry="0.7" fill="#e0707a"/>
<rect x="568.1" y="255.9" width="14.3" height="1.2" fill="#3b7fc0"/>
<line x1="568.1" y1="259.5" x2="585.9" y2="259.5" stroke="#8fb8dc" stroke-width="0.9" stroke-dasharray="1.300 0.500"/>
<line x1="568.1" y1="261.5" x2="585.9" y2="261.5" stroke="#8fb8dc" stroke-width="0.9" stroke-dasharray="1.300 0.500"/>
<line x1="568.1" y1="263.5" x2="585.9" y2="263.5" stroke="#8fb8dc" stroke-width="0.9" stroke-dasharray="1.300 0.500"/>
<path d="M577.500,322.800 Q574,310 576.500,300.500 Q579,294.500 587,293.500 Q596,293.500 599.500,299 Q603,309 598.500,322.800 Z" fill="#a9a9c9"/>
<circle cx="588.5" cy="285.5" r="5" fill="#f6cfc6"/>
<path d="M586.500,280 Q592,277.500 595,282.500 Q596.500,288 597.500,292 Q592.500,293.500 590.500,290 Q591,284 586.500,280 Z" fill="#f1dd3d"/>
<rect x="576.2" y="291.8" width="5.4" height="6.4" fill="#efe33a" transform="rotate(-15 579 295)"/>
<circle cx="580.8" cy="298.5" r="1.8" fill="#f6cfc6"/>
<path d="M535.500,322.800 Q532,305 537.500,298.500 Q546,294 554,296.500 L566.500,272.500 L570.800,274.800 L560.500,299.500 Q559,312 557.500,322.800 Z" fill="#e2d62b"/>
<path d="M532.500,306 L536,304 L538.500,322.800 L534.500,322.800 Z" fill="#f1a9a9"/>
<circle cx="568.8" cy="270.8" r="2" fill="#f6b5b0"/>
<rect x="566.2" y="261.2" width="6.8" height="7.2" fill="#efe33a" transform="rotate(18 570 265)"/>
<path d="M540,292.500 Q538.500,283.500 546.500,283 Q554.500,283 554,291.500 Q553,296 546.500,296 Q541.500,296 540,292.500 Z" fill="#3b82c2"/>
<path d="M514.500,322.800 L514,296 Q516,292.500 522,293.500 Q531,294 534,299.500 L534.500,322.800 Z" fill="#fbfbfb"/>
<rect x="515" y="319.5" width="17" height="3.3" fill="#3b7fc0"/>
<path d="M518,281.500 L523.500,262.500 L526.500,263.500 L522.500,283 Z" fill="#f1a0a8"/>
<rect x="524.5" y="256.5" width="6" height="7.4" fill="#efe33a" transform="rotate(10 527 260)"/>
<path d="M515.500,287.500 Q514.500,279 521.500,278.500 Q528.500,278.800 528.500,286.500 Q527.500,292.500 521.500,292.500 Q516.500,292 515.500,287.500 Z" fill="#2c7cc2"/>
<rect x="519.5" y="291.5" width="4.5" height="2.2" fill="#f6b5b0"/>
<path d="M477,322.800 Q482,305 490,299 L499.500,296 L500.500,271.500 L504,271 Q507.500,283 506,300 L503,322.800 Z" fill="#8db253"/>
<rect x="486.5" y="320.3" width="16.5" height="2.5" fill="#e9405a"/>
<circle cx="500.2" cy="269" r="1.9" fill="#f6b5b0"/>
<rect x="493.8" y="261.2" width="5.8" height="8.4" fill="#efe33a" transform="rotate(-8 497 265)"/>
<path d="M480.500,299 Q486,296 488.500,288 Q491.500,282.500 497,283.500 Q501.500,285.500 501,292.500 Q500,300.500 493.500,303.500 Q485.500,304 480.500,299 Z" fill="#5ec2ca"/>
<path d="M446,322.800 Q449,304 456.500,298.500 Q464,295.500 471,298.500 Q476,302 478.500,312 L478,322.800 Z" fill="#fffde9"/>
<path d="M446,322.800 Q449,304 456.500,298.500 Q464,295.500 471,298.500" fill="none" stroke="#f2ecb0" stroke-width="0.8"/>
<path d="M472,300 L474.500,284.500 L477,285 L476.500,303 Z" fill="#fffde9"/>
<circle cx="476" cy="283.5" r="1.9" fill="#f6b5b0"/>
<rect x="472.6" y="275.8" width="6" height="8.6" fill="#efe33a" transform="rotate(-10 475.5 280)"/>
<circle cx="464.2" cy="288.4" r="6.7" fill="#a2a2ca"/>
<rect x="461.5" y="294.5" width="5.5" height="2.5" fill="#f6cfc6"/>
<rect x="420" y="316" width="15.5" height="6.8" fill="#a9d9ed"/>
<path d="M420.500,317 Q419,298 424,292.500 Q431,289.500 437.500,291 L443.500,289.500 L448.500,272.500 L451.500,273.500 L448,293 Q441,298 438.500,301.500 L443,322.800 L435,322.800 L433,316.500 Z" fill="#f8caca"/>
<path d="M434.500,303 L438.500,301.500 L443,322.800 L440,322.800 Z" fill="#f1a0a8"/>
<circle cx="430.5" cy="283.5" r="4.8" fill="#f6b5b0"/>
<path d="M419.500,288.500 Q420,278.500 427.500,276 Q433,275.500 434,279 Q430,280.500 430,286 Q428,291.500 422.500,291.500 Z" fill="#f6f1b8"/>
<rect x="444.5" y="267.2" width="10" height="6.5" fill="#efe33a" transform="rotate(8 449.5 270.5)"/>
</g>
<!-- 40_ill4.svg -->
<defs>
<linearGradient id="bl4" x1="0" y1="0" x2="0" y2="1"><stop offset="0" stop-color="#f4f0b6"/><stop offset="0.7" stop-color="#f1edae"/><stop offset="1" stop-color="#e6e196"/></linearGradient>
<linearGradient id="br4" x1="0" y1="0" x2="0" y2="1"><stop offset="0" stop-color="#efe9a6"/><stop offset="0.7" stop-color="#ebe59c"/><stop offset="1" stop-color="#ddd884"/></linearGradient>
</defs>
<g id="ill-management">
<g transform="translate(56.500 433.200) rotate(38)">
<rect x="-2" y="8" width="4" height="19" rx="2" fill="#ebe040"/>
<path d="M-8,9 L-8,-2 Q-8,-4 -6,-4 L6,-4 Q8,-4 8,-2 L8,9 Q0,13 -8,9 Z" fill="#ebe040"/>
<rect x="-8.5" y="-9.5" width="17" height="6.5" fill="#3b78c2"/>
<path d="M-8.500,-9 L-8.500,-15 Q0,-17 8.500,-15 L8.500,-9 L6,-7 L3.500,-9.500 L1,-6.500 L-2,-9.500 L-5,-7 Z" fill="#eef4fa"/>
</g>
<ellipse cx="74.8" cy="413.8" rx="2.8" ry="1.3" fill="#cfe3f3" transform="rotate(-20 74.8 413.8)"/>
<ellipse cx="80" cy="418.3" rx="3.6" ry="1.5" fill="#cfe3f3" transform="rotate(12 80 418.3)"/>
<polygon points="77.7,429 117.5,421.5 138.8,429 99.4,438.3" fill="#f6f3c6"/>
<polygon points="77.7,429 99.4,438.3 99.4,500.5 77.7,489.1" fill="url(#bl4)"/>
<polygon points="99.4,438.3 138.8,429 138.8,490.2 99.4,500.5" fill="url(#br4)"/>
<path d="M79.7,422.7 L119.5,415.2 M79.7,425.7 L119.5,418.2 M79.7,422.2 V428.5 M86.33,420.95 V427.25 M92.97,419.7 V426 M99.6,418.45 V424.75 M106.23,417.2 V423.5 M112.87,415.95 V422.25 M119.5,414.7 V421 M119.5,415.2 L140.8,422.7 M119.5,418.2 L140.8,425.7 M119.5,414.7 V421 M123.05,415.95 V422.25 M126.6,417.2 V423.5 M130.15,418.45 V424.75 M133.7,419.7 V426 M137.25,420.95 V427.25 M140.8,422.2 V428.5 M140.8,422.7 L101.4,432 M140.8,425.7 L101.4,435 M140.8,422.2 V428.5 M134.23,423.75 V430.05 M127.67,425.3 V431.6 M121.1,426.85 V433.15 M114.53,428.4 V434.7 M107.97,429.95 V436.25 M101.4,431.5 V437.8 M101.4,432 L79.7,422.7 M101.4,435 L79.7,425.7 M101.4,431.5 V437.8 M97.78,429.95 V436.25 M94.17,428.4 V434.7 M90.55,426.85 V433.15 M86.93,425.3 V431.6 M83.32,423.75 V430.05 M79.7,422.2 V428.5" fill="none" stroke="#ffffff" stroke-width="1.300" stroke-opacity="0.7"/>
<path d="M79.7,422.7 L119.5,415.2 M79.7,425.7 L119.5,418.2 M79.7,422.2 V428.5 M86.33,420.95 V427.25 M92.97,419.7 V426 M99.6,418.45 V424.75 M106.23,417.2 V423.5 M112.87,415.95 V422.25 M119.5,414.7 V421 M119.5,415.2 L140.8,422.7 M119.5,418.2 L140.8,425.7 M119.5,414.7 V421 M123.05,415.95 V422.25 M126.6,417.2 V423.5 M130.15,418.45 V424.75 M133.7,419.7 V426 M137.25,420.95 V427.25 M140.8,422.2 V428.5 M140.8,422.7 L101.4,432 M140.8,425.7 L101.4,435 M140.8,422.2 V428.5 M134.23,423.75 V430.05 M127.67,425.3 V431.6 M121.1,426.85 V433.15 M114.53,428.4 V434.7 M107.97,429.95 V436.25 M101.4,431.5 V437.8 M101.4,432 L79.7,422.7 M101.4,435 L79.7,425.7 M101.4,431.5 V437.8 M97.78,429.95 V436.25 M94.17,428.4 V434.7 M90.55,426.85 V433.15 M86.93,425.3 V431.6 M83.32,423.75 V430.05 M79.7,422.2 V428.5" fill="none" stroke="#b3bbc4" stroke-width="0.500"/>
<path d="M81.8,446.8 v-6 q0,-3 2.200,-2.200 q2.300,1 2.300,4 v6 Z" fill="#6cb9e2"/>
<path d="M89.1,451 v-6 q0,-3 2.200,-2.200 q2.300,1 2.300,4 v6 Z" fill="#f1a3ba"/>
<path d="M81.8,459.3 v-6 q0,-3 2.200,-2.200 q2.300,1 2.300,4 v6 Z" fill="#ece142"/>
<path d="M89.1,463.5 v-6 q0,-3 2.200,-2.200 q2.300,1 2.300,4 v6 Z" fill="#8ec372"/>
<path d="M81.8,471.8 v-6 q0,-3 2.200,-2.200 q2.300,1 2.300,4 v6 Z" fill="#b3b3e2"/>
<path d="M89.1,476 v-6 q0,-3 2.200,-2.200 q2.300,1 2.300,4 v6 Z" fill="#e3c5e3"/>
<path d="M105,452.9 v-6 q0,-3.200 2.500,-3.800 q2.500,-0.500 2.500,2.500 v6 Z" fill="#f1a3ba"/>
<path d="M113,451.1 v-6 q0,-3.200 2.500,-3.800 q2.500,-0.500 2.500,2.500 v6 Z" fill="#ece142"/>
<path d="M121,449.3 v-6 q0,-3.200 2.500,-3.800 q2.500,-0.500 2.500,2.500 v6 Z" fill="#6cb9e2"/>
<path d="M129,447.5 v-6 q0,-3.200 2.500,-3.800 q2.500,-0.500 2.500,2.500 v6 Z" fill="#8ec372"/>
<path d="M105,465.4 v-6 q0,-3.200 2.500,-3.800 q2.500,-0.500 2.500,2.500 v6 Z" fill="#e3c5e3"/>
<path d="M113,463.6 v-6 q0,-3.200 2.500,-3.800 q2.500,-0.500 2.500,2.500 v6 Z" fill="#b3b3e2"/>
<path d="M121,461.8 v-6 q0,-3.200 2.500,-3.800 q2.500,-0.500 2.500,2.500 v6 Z" fill="#ece142"/>
<path d="M129,460 v-6 q0,-3.200 2.500,-3.800 q2.500,-0.500 2.500,2.500 v6 Z" fill="#f1a3ba"/>
<path d="M105,477.9 v-6 q0,-3.200 2.500,-3.800 q2.500,-0.500 2.500,2.500 v6 Z" fill="#ece142"/>
<path d="M113,476.1 v-6 q0,-3.200 2.500,-3.800 q2.500,-0.500 2.500,2.500 v6 Z" fill="#6cb9e2"/>
<path d="M121,474.3 v-6 q0,-3.200 2.500,-3.800 q2.500,-0.500 2.500,2.500 v6 Z" fill="#e3c5e3"/>
<path d="M129,472.5 v-6 q0,-3.200 2.500,-3.800 q2.500,-0.500 2.500,2.500 v6 Z" fill="#8ec372"/>
<path d="M115.400,495.300 v-8 q0,-4.500 4.800,-5.600 q4.800,-0.800 4.800,3.400 v7.800 Z" fill="#9cc35a"/>
<circle cx="107" cy="488" r="2.6" fill="#dcd77a"/>
<rect x="151.4" y="431.2" width="61.1" height="55.3" fill="#e3ebf7" stroke="#3567ae" stroke-width="1.200"/>
<rect x="170" y="442.6" width="10.4" height="33" rx="1.5" fill="#ffffff"/>
<rect x="159" y="472" width="3.8" height="3.1" fill="#ee7f2c"/>
<rect x="164.9" y="468.2" width="4" height="6.9" fill="#ee7f2c"/>
<rect x="171" y="462.2" width="3.8" height="12.9" fill="#f2a45c"/>
<rect x="175.2" y="462.6" width="3.7" height="12.5" fill="#3b6fb5"/>
<rect x="181.4" y="457" width="3.7" height="18.1" fill="#3b6fb5"/>
<rect x="187.6" y="452.9" width="3.7" height="22.2" fill="#3b6fb5"/>
<rect x="193.9" y="449.6" width="3.7" height="25.5" fill="#3b6fb5"/>
<rect x="200" y="446" width="3.7" height="29.1" fill="#3b6fb5"/>
<polyline points="160.7,463 166.9,461 172.7,455.4 183.5,446.5 189.3,445 195.5,441.3 201.5,440.3" fill="none" stroke="#3aa9ca" stroke-width="0.7"/>
<circle cx="160.7" cy="463" r="0.9" fill="#3aa9ca"/>
<circle cx="166.9" cy="461" r="0.9" fill="#3aa9ca"/>
<circle cx="172.7" cy="455.4" r="0.9" fill="#3aa9ca"/>
<circle cx="183.5" cy="446.5" r="0.9" fill="#3aa9ca"/>
<circle cx="189.3" cy="445" r="0.9" fill="#3aa9ca"/>
<circle cx="195.5" cy="441.3" r="0.9" fill="#3aa9ca"/>
<circle cx="201.5" cy="440.3" r="0.9" fill="#3aa9ca"/>
<path d="M158.800,478 l1.200,1.200 l1.600,-1.800 M165.200,478 l1.200,1.200 l1.600,-1.800" fill="none" stroke="#3b6fb5" stroke-width="0.7"/>
<circle cx="155.5" cy="435.1" r="5.5" fill="#ffffff" stroke="#3b6fb5" stroke-width="1"/>
<text x="155.500" y="438.100" font-size="8.500" font-weight="700" text-anchor="middle" fill="#3567ae" font-family="Liberation Sans, sans-serif">¥</text>
<rect x="206.5" y="500" width="17.5" height="14.5" fill="#e1d9a8"/>
<path d="M206,470.500 Q210,468 215,468.500 Q222,468.500 225.500,471.500 Q229.500,478 231,489 Q230,493 226.500,493.500 L224.500,503 L205.500,503 L206.500,487 L201.500,478.500 L196,468 L198.500,466.500 L204.500,473.500 Z" fill="#3c7cc1"/>
<polygon points="212.8,469 216.5,469 215,477.5 213.4,477.5" fill="#f1e23a"/>
<polygon points="211,469 214.5,472.5 218,469 216.5,467.5 212.5,467.5" fill="#ffffff"/>
<circle cx="196.5" cy="465.3" r="1.9" fill="#f9dccb"/>
<polygon points="204.5,482.5 216.5,479.5 220.5,494 208.5,497.5" fill="#d3c533"/>
<circle cx="212" cy="489.5" r="1.8" fill="#f9dccb"/>
<circle cx="215.2" cy="462" r="5.2" fill="#f9dccb"/>
<path d="M209.800,461 Q209.500,455 215.500,455 Q222,455.500 221.500,462.500 Q219,458.500 214,459 Q211,459.500 209.800,461 Z" fill="#2fa08f"/>
</g>
<!-- 50_ill5.svg -->
<defs>
<linearGradient id="ph5g" x1="0" y1="0" x2="0" y2="1"><stop offset="0" stop-color="#f2f2f2"/><stop offset="1" stop-color="#d6d6d6"/></linearGradient>
</defs>
<g id="ill-browse">
<ellipse cx="434.5" cy="418" rx="24" ry="12.6" fill="none" stroke="#e3f1f5" stroke-width="0.700" stroke-dasharray="1.500 1.500"/>
<ellipse cx="405" cy="441.9" rx="19" ry="9" fill="none" stroke="#e3f1f5" stroke-width="0.700" stroke-dasharray="1.500 1.500"/>
<clipPath id="ph5clip"><rect x="430" y="420" width="59.600" height="111"/></clipPath>
<g clip-path="url(#ph5clip)">
<rect x="436" y="425.2" width="70" height="120" rx="4.5" fill="#bcd3e9"/>
<rect x="439.3" y="433.5" width="60" height="100" fill="#ffffff"/>
<rect x="458" y="428.5" width="16" height="1.1" rx="0.5" fill="#a5bcd6"/>
<rect x="439.3" y="433.5" width="60" height="2.6" fill="#eceff3"/>
<rect x="442" y="441" width="10.5" height="1.3" rx="0.6" fill="#9aa5b4"/>
<rect x="478.5" y="439.8" width="3.8" height="2.8" rx="0.8" fill="#6f7b8c"/>
<circle cx="487.5" cy="441.5" r="1.6" fill="#f2924a"/>
<rect x="439.3" y="446" width="60" height="0.6" fill="#dfe4ea"/>
<rect x="443" y="450.5" width="27.5" height="2.6" rx="0.5" fill="#c5cad3"/>
<rect x="443" y="457.2" width="50" height="40.8" fill="#dfe9f6"/>
<rect x="461.5" y="462.5" width="7.8" height="30.5" rx="1" fill="#ffffff"/>
<rect x="448" y="487.5" width="2.8" height="2.5" fill="#ee7f2c"/>
<rect x="452.5" y="484.5" width="3" height="5.5" fill="#ee7f2c"/>
<rect x="457.5" y="480" width="3" height="10" fill="#ee7f2c"/>
<rect x="462.5" y="476" width="2.8" height="14" fill="#f2a45c"/>
<rect x="466" y="476" width="3" height="14" fill="#3b6fb5"/>
<rect x="470.7" y="473" width="3" height="17" fill="#3b6fb5"/>
<rect x="475.5" y="470.5" width="3" height="19.5" fill="#3b6fb5"/>
<rect x="480.3" y="468" width="3" height="22" fill="#3b6fb5"/>
<polyline points="449.5,480.8 454,479 458.5,474.5 463.5,468.5 468,467 476.5,463.8 481.5,463" fill="none" stroke="#3aa9ca" stroke-width="0.7"/>
<circle cx="449.5" cy="480.8" r="0.8" fill="#3aa9ca"/>
<circle cx="454" cy="479" r="0.8" fill="#3aa9ca"/>
<circle cx="458.5" cy="474.5" r="0.8" fill="#3aa9ca"/>
<circle cx="463.5" cy="468.5" r="0.8" fill="#3aa9ca"/>
<circle cx="468" cy="467" r="0.8" fill="#3aa9ca"/>
<circle cx="476.5" cy="463.8" r="0.8" fill="#3aa9ca"/>
<circle cx="481.5" cy="463" r="0.8" fill="#3aa9ca"/>
<path d="M448.500,492.300 l0.900,0.900 l1.200,-1.400 M453.200,492.300 l0.900,0.900 l1.200,-1.400 M458,492.300 l0.900,0.900 l1.200,-1.400 M462.800,492.300 l0.900,0.900 l1.200,-1.400" fill="none" stroke="#3b6fb5" stroke-width="0.6"/>
<rect x="439.3" y="499.5" width="60" height="32" fill="url(#ph5g)"/>
<rect x="445" y="503" width="25" height="2.4" rx="0.5" fill="#c5cad3"/>
<rect x="445" y="511" width="50" height="2.6" rx="0.5" fill="#d2d2d2"/>
<rect x="445" y="518" width="25" height="2.4" rx="0.5" fill="#b4bdca"/>
<rect x="445" y="525" width="50" height="2.6" rx="0.5" fill="#c9c9c9"/>
</g>
<path d="M426,531 Q429,512 436,503.500 Q441,499 445,502.500 Q449,508 446.500,519 L444.500,531 Z" fill="#e8929c"/>
<path d="M436.500,505.500 Q441,501 444,504 Q446,508.500 444,512.500 Q438,513 436.500,505.500 Z" fill="#f4c4c8"/>
<line x1="495.8" y1="442.4" x2="503" y2="433" stroke="#7fc9e2" stroke-width="2.5" stroke-linecap="round"/>
<line x1="499.5" y1="448.8" x2="507.5" y2="445.2" stroke="#7fc9e2" stroke-width="2.5" stroke-linecap="round"/>
<line x1="499" y1="455.3" x2="510" y2="454.7" stroke="#7fc9e2" stroke-width="2.5" stroke-linecap="round"/>
<rect x="508.5" y="494" width="4.5" height="8.5" fill="#eea0a8"/>
<path d="M511.500,464.600 Q517,466 519,474 Q521.500,484 519.500,491 Q516,497 510,496 Q505,494.500 505,486 Q505,470 511.500,464.600 Z" fill="#3b7cc2"/>
<rect x="532.3" y="493" width="3.6" height="6.5" fill="#eea0a8"/>
<path d="M533.500,471 Q540,471.500 542,478 Q545,484 542.500,490 Q539,496 532.500,495.300 Q526,494.500 524.500,488 Q523,478 527.500,474 Q530,471 533.500,471 Z" fill="#4fb2d3"/>
</g>
<!-- 60_ill6.svg -->
<g id="ill-conventional">
<rect x="750.3" y="123.7" width="109.7" height="23" fill="#898989"/>
<circle cx="768.6" cy="98.5" r="3.5" fill="#898989"/>
<path d="M762,119.500 V109 Q762,104 766,104 H771 Q775,104 776,109 L777.500,119.500 Z" fill="#898989"/>
<circle cx="791.4" cy="98.5" r="3.7" fill="#898989"/>
<path d="M782.100,119.500 Q784.500,110 789.500,105.500 Q793,103 797,106 Q802.500,112 806.100,119.500 Z" fill="#898989"/>
<line x1="787.5" y1="115.8" x2="793.8" y2="113.3" stroke="#ffffff" stroke-width="0.9"/>
<circle cx="820" cy="98" r="4" fill="#898989"/>
<path d="M811.3,119.5 V111.77 Q811.3,103.4 816.49,103.4 H823.41 Q828.6,103.4 828.6,111.77 V119.5 Z" fill="#898989"/>
<circle cx="838.4" cy="98" r="4" fill="#898989"/>
<path d="M830.1,119.5 V111.77 Q830.1,103.4 835.23,103.4 H842.07 Q847.2,103.4 847.2,111.77 V119.5 Z" fill="#898989"/>
<line x1="857" y1="107.5" x2="872.2" y2="89.2" stroke="#898989" stroke-width="1.1"/>
<line x1="860.7" y1="116.8" x2="884.5" y2="120.5" stroke="#898989" stroke-width="1.1"/>
<rect x="872" y="95.8" width="5.4" height="5.4" fill="#898989" transform="rotate(28 874.7 98.5)"/>
<circle cx="885" cy="104.6" r="3.1" fill="#898989"/>
<polygon points="863.5,106.2 870,107 866.5,112.2" fill="#898989"/>
<path d="M875,110 L879.200,114 M879.200,110 L875,114 M874.300,112 H880" fill="none" stroke="#898989" stroke-width="1.1"/>
<circle cx="757.9" cy="159" r="3.2" fill="#898989"/>
<path d="M751,176.3 Q751.88,166.35 756.29,164.6 Q758.35,164.3 760.41,164.6 Q764.82,166.35 765.7,176.3 Z" fill="#898989"/>
<circle cx="774.3" cy="159" r="3.2" fill="#898989"/>
<path d="M767.4,176.3 Q768.28,166.35 772.69,164.6 Q774.75,164.3 776.81,164.6 Q781.22,166.35 782.1,176.3 Z" fill="#898989"/>
<circle cx="789.5" cy="159" r="3.2" fill="#898989"/>
<path d="M782.8,176.3 Q783.71,166.35 788.27,164.6 Q790.4,164.3 792.53,164.6 Q797.09,166.35 798,176.3 Z" fill="#898989"/>
<circle cx="809.8" cy="159" r="3.7" fill="#898989"/>
<path d="M801.2,176.3 V170.68 Q801.2,164.6 806.36,164.6 H813.24 Q818.4,164.6 818.4,170.68 V176.3 Z" fill="#898989"/>
<circle cx="828.4" cy="159" r="3.7" fill="#898989"/>
<path d="M820.3,176.3 V170.68 Q820.3,164.6 825.37,164.6 H832.13 Q837.2,164.6 837.2,170.68 V176.3 Z" fill="#898989"/>
<circle cx="848.5" cy="159" r="3.7" fill="#898989"/>
<path d="M839.9,176.3 V170.68 Q839.9,164.6 845.03,164.6 H851.87 Q857,164.6 857,170.68 V176.3 Z" fill="#898989"/>
<circle cx="756.2" cy="188.8" r="3.2" fill="#898989"/>
<path d="M749.8,206.2 Q750.68,196.25 755.09,194.5 Q757.15,194.2 759.21,194.5 Q763.62,196.25 764.5,206.2 Z" fill="#898989"/>
<circle cx="776" cy="188.8" r="3.9" fill="#898989"/>
<path d="M767.7,206.2 V200.58 Q767.7,194.5 772.68,194.5 H779.32 Q784.3,194.5 784.3,200.58 V206.2 Z" fill="#898989"/>
<circle cx="795.1" cy="188.8" r="3.9" fill="#898989"/>
<path d="M786.5,206.2 V200.58 Q786.5,194.5 791.51,194.5 H798.19 Q803.2,194.5 803.2,200.58 V206.2 Z" fill="#898989"/>
<circle cx="813" cy="188.8" r="3.9" fill="#898989"/>
<path d="M804.9,206.2 V200.58 Q804.9,194.5 809.88,194.5 H816.52 Q821.5,194.5 821.5,200.58 V206.2 Z" fill="#898989"/>
<circle cx="830.8" cy="188.8" r="3.4" fill="#898989"/>
<path d="M824.5,206.2 Q825.38,196.25 829.79,194.5 Q831.85,194.2 833.91,194.5 Q838.32,196.25 839.2,206.2 Z" fill="#898989"/>
<circle cx="849.7" cy="188.8" r="3.9" fill="#898989"/>
<path d="M841.1,206.2 V200.58 Q841.1,194.5 846.26,194.5 H853.14 Q858.3,194.5 858.3,200.58 V206.2 Z" fill="#898989"/>
<path d="M797.600,327.200 a12.200,9 0 1 1 11.500,9 l-1.300,3 l-1.700,-3.400 a12.200,9 0 0 1 -8.500,-8.600 Z" fill="#898989"/>
<path d="M818.800,332.800 a11,8.700 0 1 1 5.500,7.500 l-5.800,2.400 l3,-4.200 a11,8.700 0 0 1 -2.700,-5.700 Z" fill="#898989" stroke="#ffffff" stroke-width="1"/>
<path d="M751.200,351.500 Q748.500,343.500 755.500,341 Q762.500,340 762,346.500 Q760.500,349.500 758.500,351 Q757.500,352.500 760.500,355.500" fill="none" stroke="#898989" stroke-width="2.600" stroke-linecap="round" stroke-linejoin="round"/>
<circle cx="767" cy="358.7" r="2.2" fill="#898989"/>
<path d="M870,348.300 Q871.500,354.500 866,358 Q861.500,358.500 862.800,353.500 Q865,349.800 870,348.300 Z" fill="#898989"/>
<path d="M882.300,355 Q880.500,361 875,363 Q870.500,362.500 872.500,358.500 Q876.500,355.200 882.300,355 Z" fill="#898989"/>
<circle cx="798.5" cy="348.9" r="6.2" fill="#898989"/>
<path d="M783.900,383 Q785,368 791.500,361.500 Q796.500,357.800 803,360.500 Q810.500,364.500 821.500,383 Z" fill="#898989"/>
<rect x="791.8" y="373" width="10.8" height="5.4" rx="1" fill="none" stroke="#ffffff" stroke-width="1.100" transform="rotate(-30 797.2 375.7)"/>
<line x1="810" y1="373" x2="813.8" y2="381.5" stroke="#ffffff" stroke-width="0.9"/>
<circle cx="837.5" cy="354" r="5.9" fill="#898989"/>
<path d="M825,383 Q825.500,366 831.500,363 Q837.500,361.300 843.500,363 Q848.500,366.500 848.600,383 L848.600,392 L825,392 Z" fill="#898989"/>
<polygon points="780.8,382.5 837.5,382.5 863.9,429.6 754,429.6" fill="#d0d0d0"/>
<circle cx="756.8" cy="371.7" r="6.4" fill="#898989"/>
<path d="M749.300,408.400 V386 Q749.300,380.200 755,380.200 H760 Q765.500,380.200 765.500,386 V402 L762.500,408.400 Z" fill="#898989"/>
<path d="M751,384 L741.500,396 L732.500,387" fill="none" stroke="#898989" stroke-width="4" stroke-linejoin="round" stroke-linecap="round"/>
<path d="M764,384 L774.400,396 L782,388" fill="none" stroke="#898989" stroke-width="4" stroke-linejoin="round" stroke-linecap="round"/>
<circle cx="858.3" cy="372.4" r="6.2" fill="#898989"/>
<path d="M854,407.700 L851.500,396 V386.500 Q852,380.600 858,380.600 H864.500 Q870.500,380.600 870.500,386.500 V407.700 Z" fill="#898989"/>
<path d="M855,385 L843.500,396 L835,389.500" fill="none" stroke="#898989" stroke-width="4" stroke-linejoin="round" stroke-linecap="round"/>
<path d="M868,385 L878,397 L888.200,398.800" fill="none" stroke="#898989" stroke-width="4" stroke-linejoin="round" stroke-linecap="round"/>
</g>
<!-- 70_ill7.svg -->
<defs>
<linearGradient id="ph7g" x1="0" y1="0" x2="0" y2="1"><stop offset="0" stop-color="#f3f3f3"/><stop offset="1" stop-color="#d9d9d9"/></linearGradient>
</defs>
<g id="ill-smoothe">
<g transform="translate(0 0)">
<rect x="1185.3" y="73.7" width="49.7" height="87.6" rx="3.6" fill="#727171"/>
<rect x="1188.5" y="80.8" width="43.3" height="77.2" rx="0.8" fill="#fce6e6"/>
<path d="M1188.500,95.300 V81.600 a0.800,0.800 0 0 1 0.800,-0.800 H1231 a0.800,0.800 0 0 1 0.800,0.800 V95.300 Z" fill="#ffffff"/>
<rect x="1204.5" y="77.2" width="11.3" height="1.4" rx="0.7" fill="#a5a5a5"/>
<path d="M1191.300,88.300 l1.800,-1 v2 Z M1193.600,87.300 h3 v2.100 h-3 Z M1197.200,88 h2.200 v1.800 h-2.200 Z M1199.800,87.500 h3.200 v0.800 h-3.200 Z" fill="#4a4a4a"/>
<circle cx="1213.5" cy="87.9" r="2.3" fill="#f3f3f3"/>
<circle cx="1222.8" cy="87.9" r="2.3" fill="#f3f3f3"/>
<rect x="1212.4" y="86.7" width="2.2" height="2.4" fill="none" stroke="#4a4a4a" stroke-width="0.5"/>
<path d="M1222.800,86.300 q-1.600,2.200 0,3 q1.600,-0.800 0,-3 Z" fill="none" stroke="#4a4a4a" stroke-width="0.5"/>
<rect x="1196.6" y="127.3" width="22.4" height="22.1" fill="none" stroke="#5b74a8" stroke-width="1.150"/>
<path d="M1196.600,127.300 L1200.700,119.400 H1214.900 L1219,127.300" fill="none" stroke="#5b74a8" stroke-width="1.150" stroke-linejoin="round"/>
<path d="M1203.500,114.800 Q1205.500,106.500 1213.500,103.200 L1224.300,98.700 Q1226.500,98.500 1228.800,102.600 L1222.400,113.200 Q1219,116.500 1214.500,115.500" fill="#fce6e6" stroke="#5b74a8" stroke-width="1.150" stroke-linejoin="round" stroke-linecap="round"/>
<path d="M1207.500,112 Q1209,108 1212.500,108.300 Q1215.500,109.500 1213.500,113.500" fill="none" stroke="#5b74a8" stroke-width="1.150" stroke-linecap="round"/>
<polygon points="1205.6,112.6 1213.2,114.6 1210.3,123.6 1202.3,120.8" fill="#ffffff" stroke="#5b74a8" stroke-width="1.100" stroke-linejoin="round"/>
</g>
<g transform="translate(57.35 0)">
<rect x="1185.3" y="73.7" width="49.7" height="87.6" rx="3.6" fill="#727171"/>
<rect x="1188.5" y="80.8" width="43.3" height="77.2" rx="0.8" fill="#fce6e6"/>
<path d="M1188.500,95.300 V81.600 a0.800,0.800 0 0 1 0.800,-0.800 H1231 a0.800,0.800 0 0 1 0.800,0.800 V95.300 Z" fill="#ffffff"/>
<rect x="1204.5" y="77.2" width="11.3" height="1.4" rx="0.7" fill="#a5a5a5"/>
<path d="M1191.300,88.300 l1.800,-1 v2 Z M1193.600,87.300 h3 v2.100 h-3 Z M1197.200,88 h2.200 v1.800 h-2.200 Z M1199.800,87.500 h3.200 v0.800 h-3.200 Z" fill="#4a4a4a"/>
<circle cx="1213.5" cy="87.9" r="2.3" fill="#f3f3f3"/>
<circle cx="1222.8" cy="87.9" r="2.3" fill="#f3f3f3"/>
<rect x="1212.4" y="86.7" width="2.2" height="2.4" fill="none" stroke="#4a4a4a" stroke-width="0.5"/>
<path d="M1222.800,86.300 q-1.600,2.200 0,3 q1.600,-0.800 0,-3 Z" fill="none" stroke="#4a4a4a" stroke-width="0.5"/>
<rect x="1196.6" y="127.3" width="22.4" height="22.1" fill="none" stroke="#5b74a8" stroke-width="1.150"/>
<path d="M1196.600,127.300 L1200.700,119.400 H1214.900 L1219,127.300" fill="none" stroke="#5b74a8" stroke-width="1.150" stroke-linejoin="round"/>
<path d="M1203.500,114.800 Q1205.500,106.500 1213.500,103.200 L1224.300,98.700 Q1226.500,98.500 1228.800,102.600 L1222.400,113.200 Q1219,116.500 1214.500,115.500" fill="#fce6e6" stroke="#5b74a8" stroke-width="1.150" stroke-linejoin="round" stroke-linecap="round"/>
<path d="M1207.500,112 Q1209,108 1212.500,108.300 Q1215.500,109.500 1213.500,113.500" fill="none" stroke="#5b74a8" stroke-width="1.150" stroke-linecap="round"/>
<polygon points="1205.6,112.6 1213.2,114.6 1210.3,123.6 1202.3,120.8" fill="#ffffff" stroke="#5b74a8" stroke-width="1.100" stroke-linejoin="round"/>
</g>
<g transform="translate(114.7 0)">
<rect x="1185.3" y="73.7" width="49.7" height="87.6" rx="3.6" fill="#727171"/>
<rect x="1188.5" y="80.8" width="43.3" height="77.2" rx="0.8" fill="#fce6e6"/>
<path d="M1188.500,95.300 V81.600 a0.800,0.800 0 0 1 0.800,-0.800 H1231 a0.800,0.800 0 0 1 0.800,0.800 V95.300 Z" fill="#ffffff"/>
<rect x="1204.5" y="77.2" width="11.3" height="1.4" rx="0.7" fill="#a5a5a5"/>
<path d="M1191.300,88.300 l1.800,-1 v2 Z M1193.600,87.300 h3 v2.100 h-3 Z M1197.200,88 h2.200 v1.800 h-2.200 Z M1199.800,87.500 h3.200 v0.800 h-3.200 Z" fill="#4a4a4a"/>
<circle cx="1213.5" cy="87.9" r="2.3" fill="#f3f3f3"/>
<circle cx="1222.8" cy="87.9" r="2.3" fill="#f3f3f3"/>
<rect x="1212.4" y="86.7" width="2.2" height="2.4" fill="none" stroke="#4a4a4a" stroke-width="0.5"/>
<path d="M1222.800,86.300 q-1.600,2.200 0,3 q1.600,-0.800 0,-3 Z" fill="none" stroke="#4a4a4a" stroke-width="0.5"/>
<rect x="1196.6" y="127.3" width="22.4" height="22.1" fill="none" stroke="#5b74a8" stroke-width="1.150"/>
<path d="M1196.600,127.300 L1200.700,119.400 H1214.900 L1219,127.300" fill="none" stroke="#5b74a8" stroke-width="1.150" stroke-linejoin="round"/>
<path d="M1203.500,114.800 Q1205.500,106.500 1213.500,103.200 L1224.300,98.700 Q1226.500,98.500 1228.800,102.600 L1222.400,113.200 Q1219,116.500 1214.500,115.500" fill="#fce6e6" stroke="#5b74a8" stroke-width="1.150" stroke-linejoin="round" stroke-linecap="round"/>
<path d="M1207.500,112 Q1209,108 1212.500,108.300 Q1215.500,109.500 1213.500,113.500" fill="none" stroke="#5b74a8" stroke-width="1.150" stroke-linecap="round"/>
<polygon points="1205.6,112.6 1213.2,114.6 1210.3,123.6 1202.3,120.8" fill="#ffffff" stroke="#5b74a8" stroke-width="1.100" stroke-linejoin="round"/>
</g>
<ellipse cx="1161.5" cy="296.5" rx="5" ry="2.8" fill="#e8929c" transform="rotate(-15 1161.5 296.5)"/>
<ellipse cx="1159.5" cy="304.5" rx="5" ry="2.6" fill="#e8929c" transform="rotate(-12 1159.5 304.5)"/>
<ellipse cx="1156.5" cy="312" rx="4.5" ry="2.4" fill="#e8929c" transform="rotate(-5 1156.5 312)"/>
<g transform="translate(1147.2 276.1) rotate(16.9)">
<rect x="-18.8" y="-35.5" width="37.6" height="71" rx="3" fill="#bcd3e9"/>
<rect x="-16.6" y="-30" width="33.2" height="63" fill="#ffffff"/>
<rect x="-16.6" y="-30" width="33.2" height="1.6" fill="#e9eef4"/>
<rect x="-14" y="-26" width="5.5" height="0.9" fill="#8b96a8"/>
<rect x="8.5" y="-25.8" width="1.8" height="1.5" fill="#6f7b8c"/>
<circle cx="13.3" cy="-25" r="0.9" fill="#f2924a"/>
<rect x="-16.6" y="-22.5" width="33.2" height="0.4" fill="#e3e7ec"/>
<rect x="-16.6" y="11" width="33.2" height="22" fill="url(#ph7g)"/>
<rect x="-14" y="13.5" width="16" height="1.6" rx="0.5" fill="#b4bdd0"/>
<rect x="-14" y="18.5" width="27" height="1.4" rx="0.5" fill="#d0d0d0"/>
<rect x="-14" y="23.5" width="16" height="1.6" rx="0.5" fill="#b4bdd0"/>
<rect x="-14" y="28.5" width="27" height="1.4" rx="0.5" fill="#cacaca"/>
</g>
<path d="M1110,303.500 Q1113,292 1120,286.500 Q1125.500,283 1128.500,287 Q1129.500,294 1124.500,305.500 Z" fill="#e8929c"/>
<path d="M1121,288.500 Q1125.500,285 1127.500,288 Q1127.500,292.500 1124.500,295.500 Q1120.500,294 1121,288.500 Z" fill="#f4c4c8"/>
<path d="M1093.6,396.9 H1101.2 L1101,413.8 H1098 L1097.4,402.4 L1096.8,413.8 H1093.8 Z" fill="#c8861e"/>
<ellipse cx="1095" cy="414.1" rx="2.2" ry="1" fill="#2c6fb3"/>
<ellipse cx="1100" cy="414.1" rx="2.2" ry="1" fill="#2c6fb3"/>
<path d="M1092.4,387.3 Q1092.9,384.8 1097.4,384.8 Q1101.9,384.8 1102.4,387.3 L1101.4,397.4 H1093.4 Z" fill="#9cc35a"/>
<rect x="1092.2" y="387.3" width="1.3" height="9.45" fill="#9cc35a"/>
<rect x="1101.3" y="387.3" width="1.3" height="9.45" fill="#9cc35a"/>
<circle cx="1092.85" cy="397.13" r="0.8" fill="#f7cfc4"/>
<circle cx="1101.95" cy="397.13" r="0.8" fill="#f7cfc4"/>
<rect x="1096.5" y="382.7" width="1.8" height="2.6" fill="#f7cfc4"/>
<circle cx="1097.4" cy="381.2" r="2.5" fill="#f7cfc4"/>
<path d="M1094.5,381.4 q-0.300,-3.600 2.900,-3.600 q3.200,0 2.900,3.600 q-1.200,-1.900 -2.900,-1.800 q-1.700,-0.100 -2.900,1.800 Z" fill="#2c7cc2"/>
<path d="M1101.500,387 L1104.800,383.500 L1105.500,390.500 L1102,392 Z" fill="#f7cfc4"/>
<rect x="1108.2" y="403.7" width="1.5" height="9.8" fill="#f7cfc4"/>
<rect x="1111.1" y="403.7" width="1.5" height="9.8" fill="#f7cfc4"/>
<polygon points="1107.16,392.8 1113.64,392.8 1114.54,404.7 1106.26,404.7" fill="#3aa898"/>
<ellipse cx="1108.24" cy="414.3" rx="1.98" ry="1" fill="#e85a6a"/>
<ellipse cx="1112.74" cy="414.3" rx="1.98" ry="1" fill="#e85a6a"/>
<path d="M1105.9,388.5 Q1106.35,386 1110.4,386 Q1114.45,386 1114.9,388.5 L1114,393.3 H1106.8 Z" fill="#a9a9c9"/>
<rect x="1105.7" y="388.5" width="1.3" height="5.48" fill="#a9a9c9"/>
<rect x="1113.8" y="388.5" width="1.3" height="5.48" fill="#a9a9c9"/>
<circle cx="1106.35" cy="394.19" r="0.8" fill="#f7cfc4"/>
<circle cx="1114.45" cy="394.19" r="0.8" fill="#f7cfc4"/>
<rect x="1109.5" y="384.1" width="1.8" height="2.4" fill="#f7cfc4"/>
<circle cx="1110.4" cy="382.6" r="2.5" fill="#f7cfc4"/>
<path d="M1107.5,382.8 q-0.300,-3.600 2.900,-3.600 q3.200,0 2.900,3.600 q-1.200,-1.900 -2.900,-1.800 q-1.700,-0.100 -2.900,1.800 Z" fill="#2c7cc2"/>
<path d="M1124.4,395.4 H1132 L1131.8,414 H1128.8 L1128.2,400.9 L1127.6,414 H1124.6 Z" fill="#2c6fb3"/>
<ellipse cx="1125.8" cy="414.3" rx="2.2" ry="1" fill="#3b86c5"/>
<ellipse cx="1130.8" cy="414.3" rx="2.2" ry="1" fill="#3b86c5"/>
<path d="M1123.2,387.8 Q1123.7,385.3 1128.2,385.3 Q1132.7,385.3 1133.2,387.8 L1132.2,395.9 H1124.2 Z" fill="#9cc35a"/>
<rect x="1123" y="387.8" width="1.3" height="7.95" fill="#9cc35a"/>
<rect x="1132.1" y="387.8" width="1.3" height="7.95" fill="#9cc35a"/>
<circle cx="1123.65" cy="396.07" r="0.8" fill="#f7cfc4"/>
<circle cx="1132.75" cy="396.07" r="0.8" fill="#f7cfc4"/>
<rect x="1127.3" y="383.1" width="1.8" height="2.7" fill="#f7cfc4"/>
<circle cx="1128.2" cy="381.6" r="2.5" fill="#f7cfc4"/>
<path d="M1125.3,381.8 q-0.300,-3.600 2.900,-3.600 q3.200,0 2.900,3.600 q-1.200,-1.900 -2.900,-1.800 q-1.700,-0.100 -2.900,1.800 Z" fill="#2c7cc2"/>
<path d="M1132,388 L1136.800,397 L1135.500,397.800 L1130.500,392 Z" fill="#9cc35a"/>
<path d="M1138.11,395.9 H1146.09 L1145.88,414 H1142.73 L1142.1,401.4 L1141.47,414 H1138.32 Z" fill="#d8909a"/>
<ellipse cx="1139.58" cy="414.3" rx="2.31" ry="1" fill="#2c6fb3"/>
<ellipse cx="1144.83" cy="414.3" rx="2.31" ry="1" fill="#2c6fb3"/>
<path d="M1136.85,387.8 Q1137.38,385.3 1142.1,385.3 Q1146.82,385.3 1147.35,387.8 L1146.3,396.4 H1137.9 Z" fill="#4a90b8"/>
<rect x="1136.65" y="387.8" width="1.3" height="8.32" fill="#4a90b8"/>
<rect x="1146.25" y="387.8" width="1.3" height="8.32" fill="#4a90b8"/>
<circle cx="1137.3" cy="396.46" r="0.8" fill="#f7cfc4"/>
<circle cx="1146.9" cy="396.46" r="0.8" fill="#f7cfc4"/>
<rect x="1141.2" y="383.1" width="1.8" height="2.7" fill="#f7cfc4"/>
<circle cx="1142.1" cy="381.6" r="2.5" fill="#f7cfc4"/>
<path d="M1139.2,381.8 q-0.300,-3.600 2.900,-3.600 q3.200,0 2.900,3.600 q-1.200,-1.900 -2.900,-1.800 q-1.700,-0.100 -2.900,1.800 Z" fill="#9b9cb9"/>
<rect x="1153.9" y="406.3" width="1.5" height="7.2" fill="#f7cfc4"/>
<rect x="1156.8" y="406.3" width="1.5" height="7.2" fill="#f7cfc4"/>
<polygon points="1152.68,395.4 1159.52,395.4 1160.47,407.3 1151.73,407.3" fill="#e83c60"/>
<ellipse cx="1153.82" cy="414.3" rx="2.09" ry="1" fill="#8cc152"/>
<ellipse cx="1158.57" cy="414.3" rx="2.09" ry="1" fill="#8cc152"/>
<path d="M1151.35,388.5 Q1151.82,386 1156.1,386 Q1160.38,386 1160.85,388.5 L1159.9,395.9 H1152.3 Z" fill="#a9a9c0"/>
<rect x="1151.15" y="388.5" width="1.3" height="7.42" fill="#a9a9c0"/>
<rect x="1159.75" y="388.5" width="1.3" height="7.42" fill="#a9a9c0"/>
<circle cx="1151.8" cy="396.22" r="0.8" fill="#f7cfc4"/>
<circle cx="1160.4" cy="396.22" r="0.8" fill="#f7cfc4"/>
<rect x="1155.2" y="384.1" width="1.8" height="2.4" fill="#f7cfc4"/>
<circle cx="1156.1" cy="382.6" r="2.5" fill="#f7cfc4"/>
<path d="M1153.2,382.8 q-0.300,-3.600 2.900,-3.600 q3.200,0 2.900,3.600 q-1.200,-1.900 -2.900,-1.800 q-1.700,-0.100 -2.900,1.800 Z" fill="#f1f1f1"/>
<path d="M1152.500,388.500 L1147,396 L1148,397 L1153.500,392.500 Z" fill="#a9a9c0"/>
<path d="M1164.2,396.9 H1171.8 L1171.6,414 H1168.6 L1168,402.4 L1167.4,414 H1164.4 Z" fill="#2fa18f"/>
<ellipse cx="1165.6" cy="414.3" rx="2.2" ry="1" fill="#2c6fb3"/>
<ellipse cx="1170.6" cy="414.3" rx="2.2" ry="1" fill="#2c6fb3"/>
<path d="M1163,388.5 Q1163.5,386 1168,386 Q1172.5,386 1173,388.5 L1172,397.4 H1164 Z" fill="#e0a0a8"/>
<rect x="1162.8" y="388.5" width="1.3" height="8.55" fill="#e0a0a8"/>
<rect x="1171.9" y="388.5" width="1.3" height="8.55" fill="#e0a0a8"/>
<circle cx="1163.45" cy="397.39" r="0.8" fill="#f7cfc4"/>
<circle cx="1172.55" cy="397.39" r="0.8" fill="#f7cfc4"/>
<rect x="1167.1" y="383.7" width="1.8" height="2.8" fill="#f7cfc4"/>
<circle cx="1168" cy="382.2" r="2.5" fill="#f7cfc4"/>
<path d="M1165.1,382.4 q-0.300,-3.600 2.900,-3.600 q3.200,0 2.900,3.600 q-1.200,-1.900 -2.900,-1.800 q-1.700,-0.100 -2.900,1.800 Z" fill="#9fd0e6"/>
<path d="M1187,397 L1191.500,397 L1193.800,412.500 L1191.500,414 L1188.800,404 L1184.500,414.500 L1182,413.500 Z" fill="#2c6fb3"/>
<path d="M1184.500,390 Q1185,388 1187.500,388 Q1190.500,388 1191,390.500 L1191.500,397.500 H1185 Z" fill="#ffffff"/>
<path d="M1185,391 L1181.500,393.500 L1181.200,390.500" fill="none" stroke="#f7cfc4" stroke-width="1.300"/>
<circle cx="1187.5" cy="384.8" r="2.3" fill="#f7cfc4"/>
<path d="M1185,384.500 a2.500,2.600 0 0 1 5,0 q-2.500,-1.800 -5,0 Z" fill="#2c7cc2"/>
<rect x="1196.5" y="407" width="1.4" height="7.5" fill="#f7cfc4"/>
<rect x="1199.5" y="407" width="1.4" height="7.5" fill="#f7cfc4"/>
<path d="M1196.800,388.500 Q1199,387 1200.800,388.500 L1202.800,408.500 L1193.200,408.500 Z" fill="#c3c7da"/>
<circle cx="1198.5" cy="384.3" r="2.3" fill="#f7cfc4"/>
<path d="M1196,384 Q1196.500,381 1199.500,381.500 Q1203,383 1203.500,387 Q1205.500,390 1205.500,392 Q1202.500,392 1201,388.500 Q1200.500,385 1196,384 Z" fill="#3aa8b8"/>
<ellipse cx="1195.5" cy="415" rx="1.9" ry="0.9" fill="#e8a0a8"/>
<ellipse cx="1201" cy="414.6" rx="1.9" ry="0.9" fill="#e8a0a8"/>
<path d="M1446,348.600 L1446.500,330 L1441.500,337 Q1439.500,338 1438,336 L1428.500,325 L1430.500,322.800 L1439.800,330 L1445.500,320 Q1449,317 1455.500,317 Q1463,317 1466,320 Q1470.500,328 1472,336 Q1471,340 1466.500,339.500 L1466,348.600 Z" fill="#4a88c9"/>
<polygon points="1451.5,317.5 1455,321.5 1458.5,317.5 1457.5,316 1452.5,316" fill="#ffffff"/>
<polygon points="1453.3,318.5 1456.3,318.5 1455.6,324.5 1453.8,324.5" fill="#f1dd31"/>
<polygon points="1445.5,324.5 1456.5,322.5 1459.5,337.5 1449.5,340" fill="#c9ba2b"/>
<circle cx="1453.5" cy="332" r="1.9" fill="#f7b9b9"/>
<circle cx="1429.5" cy="322.2" r="1.8" fill="#f9d5cf"/>
<rect x="1453.7" y="313.5" width="3.6" height="3.5" fill="#f9d5cf"/>
<circle cx="1455.6" cy="310" r="4.8" fill="#f9d5cf"/>
<path d="M1449.600,310.500 Q1448.800,302 1456,302 Q1462.600,302.300 1461.800,310.500 Q1460.500,306.500 1455,306.600 Q1451.500,306.500 1450.800,310 Z" fill="#2fa08f"/>
<circle cx="1453.3" cy="309.8" r="0.5" fill="#3c5a8c"/>
<circle cx="1457" cy="309.8" r="0.5" fill="#3c5a8c"/>
<rect x="1454" y="312.3" width="2.2" height="0.7" rx="0.3" fill="#ee8a8a"/>
</g>

</svg>

<!-- left banners -->
<div class="banner" style="left:0;top:180px;width:301px;letter-spacing:0.750px;">理事会をなくし理事就任の負担を解消</div>
<div class="banner" style="left:325.500px;top:180px;width:301.500px;letter-spacing:0.800px;">オンライン アイデア投稿・投票機能を活用</div>
<div class="banner" style="left:0;top:361px;width:301px;">日常管理や煩雑な業務は長谷工におまかせ</div>
<div class="banner" style="left:325.500px;top:361px;width:301.500px;letter-spacing:0.470px;">組合情報はいつでもどこでも閲覧</div>

<div class="t" style="left:138px;top:236.500px;font-size:16px;font-weight:500;color:#7d7d7d;letter-spacing:0.300px;">理事会<span style="font-family:'Noto Sans CJK JP','Liberation Sans',sans-serif;font-weight:300;font-size:19px;color:#e8505f;letter-spacing:0;font-feature-settings:normal;display:inline-block;width:19px;margin-left:-1.500px;line-height:16px;vertical-align:top;position:relative;top:1.500px;left:0.500px;">×</span></div>
<!-- definition -->
<div class="t" style="left:371.300px;top:25.500px;font-size:18.500px;font-weight:700;color:#0db7ee;letter-spacing:1.650px;">外部管理者方式とは</div>
<div class="t j" style="left:333px;top:57px;">管理組合の管理者を区分所有者（組</div>
<div class="t j" style="left:333px;top:85px;">合員）の中から選ぶのではなく、外部</div>
<div class="t j" style="left:333px;top:113px;">の第三者（専門家）を管理者として</div>
<div class="t" style="left:333px;top:140.500px;font-size:17px;font-weight:350;color:#42464b;letter-spacing:0.900px;line-height:28px;">選任する方法。</div>

<!-- centre -->
<div class="t c" style="left:673px;top:30px;width:254px;font-size:19px;font-weight:500;color:#231815;letter-spacing:1.800px;text-indent:1.800px;">従来の理事会方式</div>
<div class="t c" style="left:722px;top:223.500px;width:160px;font-size:14px;font-weight:700;color:#231815;letter-spacing:0;word-spacing:5.300px;">総 会</div>
<div class="t c" style="left:726px;top:287px;width:160px;font-size:15px;font-weight:400;color:#3e3a39;letter-spacing:0.800px;">議案の付議</div>
<div class="t c" style="left:753px;top:408px;width:111px;font-size:15px;font-weight:700;color:#231815;letter-spacing:0.800px;">理事会</div>
<div class="t" style="left:733px;top:450px;font-size:13px;color:#3e3a39;letter-spacing:1.100px;"><span class="dot">●</span>特定の方へ負担の集中</div>
<div class="t" style="left:733px;top:473px;font-size:13px;color:#3e3a39;letter-spacing:1.250px;"><span class="dot">●</span>全員が経験するのに</div>
<div class="t" style="left:748px;top:490px;font-size:13px;color:#3e3a39;letter-spacing:0.700px;">十数年も必要</div>

<!-- right -->
<div class="t" style="left:1122.500px;top:28.500px;font-size:20px;font-weight:700;color:#fff;letter-spacing:1.250px;">理事会を設置しない<span style="font-size:21px;letter-spacing:1.100px;">smooth-e</span></div>
<div class="t" style="left:1072.500px;top:97px;font-size:14.500px;color:#1a86c0;letter-spacing:0.700px;">案件を</div>
<div class="t" style="left:1072.500px;top:116.700px;font-size:14.500px;color:#1a86c0;letter-spacing:0.250px;">タイムリーに</div>
<div class="t c" style="left:1145px;top:177.500px;width:247px;font-size:14.500px;font-weight:700;color:#231815;letter-spacing:1.100px;">オンライン投票または総会</div>
<div class="t c" style="left:1224px;top:250px;width:100px;font-size:15px;font-weight:700;color:#231815;letter-spacing:0.600px;">議案の付議</div>
<div class="t" style="left:1059.500px;top:272.500px;font-size:14px;color:#fff;letter-spacing:1.300px;">デジタル</div>
<div class="t" style="left:1409.500px;top:273px;font-size:14px;color:#fff;letter-spacing:0.200px;">外部管理者</div>
<div class="t" style="left:1108.500px;top:322.500px;font-size:20.500px;font-weight:350;color:#231815;letter-spacing:11.200px;">組合員</div>
<div class="t" style="left:1101px;top:351.500px;font-size:13.500px;font-weight:350;color:#231815;letter-spacing:2.300px;"><span style="letter-spacing:3.300px;">（</span>区分所有<span style="letter-spacing:4.300px;">者</span>）</div>
<div class="t" style="left:1303px;top:332.500px;font-size:10.500px;font-weight:500;color:#32a4b8;letter-spacing:1px;">※注1</div>
<div class="t" style="left:1347px;top:330px;font-size:19.500px;font-weight:350;color:#231815;letter-spacing:10.200px;">管理者</div>
<div class="t" style="left:1304.500px;top:359.700px;font-size:11.700px;font-weight:350;color:#231815;letter-spacing:1.700px;">（長谷工 <span style="font-size:14px;letter-spacing:0;">smooth-e</span>運営部門）</div>
<div class="t" style="left:1096px;top:435px;font-size:16.500px;font-weight:350;color:#1a7fbd;letter-spacing:0.900px;">付加価値向上を</div>
<div class="t" style="left:1113.500px;top:460px;font-size:16.500px;font-weight:350;color:#1a7fbd;letter-spacing:0.600px;">全員で検討</div>
<div class="t" style="left:1313.500px;top:432px;font-size:15.500px;font-weight:350;color:#231815;letter-spacing:-0.050px;">計画修繕・日常管理を</div>
<div class="t" style="left:1343.500px;top:453px;font-size:15.500px;font-weight:350;color:#231815;letter-spacing:1.600px;">適切に遂行</div>
<div class="t" style="left:1208px;top:496.500px;font-size:13.500px;font-weight:350;color:#231815;letter-spacing:1.090px;"><span style="color:#32a4b8;letter-spacing:0.100px;">※注1</span><span style="margin:0 8.300px 0 2px;">:</span>従来は 区分所有者の「理事長<span style="letter-spacing:6.400px;">」</span>が担当</div>
</div>
</body>
</html>
